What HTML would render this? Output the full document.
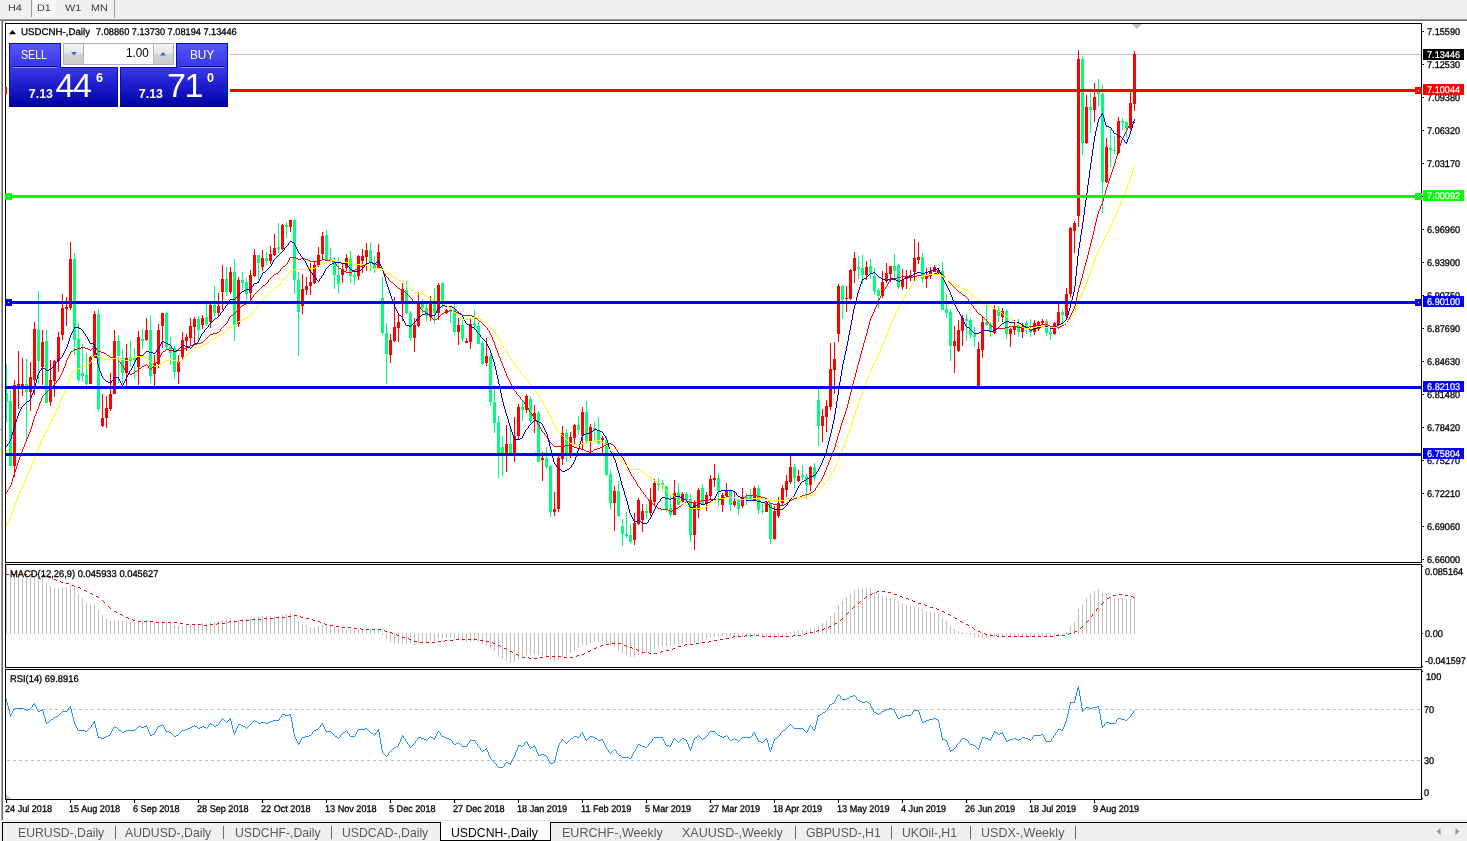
<!DOCTYPE html>
<html><head><meta charset="utf-8"><title>USDCNH-,Daily</title>
<style>
html,body{margin:0;padding:0;background:#fff;}
body{width:1467px;height:841px;overflow:hidden;position:relative;font-family:"Liberation Sans",sans-serif;font-size:9px;color:#000;}
.a{position:absolute;white-space:nowrap;line-height:1;}
.t{position:absolute;white-space:nowrap;line-height:11px;height:11px;font-size:10px;text-rendering:geometricPrecision;transform:translate(0,1px) scale(0.915,0.975);transform-origin:0 0;-webkit-text-stroke:0.3px currentColor;}
.ax{left:1426.5px;}
.tb{position:absolute;white-space:nowrap;font-size:10px;color:#3c3c3c;line-height:12px;top:2px;text-rendering:geometricPrecision;transform:translate(0,1.4px) scale(1.08,0.96);transform-origin:0 0;}
.tab{position:absolute;white-space:nowrap;font-size:13px;color:#5a5a5a;line-height:15px;top:825px;transform:scaleX(0.94);transform-origin:0 0;}
.lbl{position:absolute;left:1423px;width:41px;height:11px;color:#fff;font-size:10px;line-height:11px;}
.lbl span{position:absolute;left:3.5px;top:0px;text-rendering:geometricPrecision;-webkit-text-stroke:0.25px currentColor;transform:translate(0,1px) scale(0.915,0.975);transform-origin:0 0;white-space:nowrap;}
svg{position:absolute;left:0;top:0;}
</style></head><body>

<div class="a" style="left:0;top:0;width:1467px;height:19px;background:#f0f0f0"></div>
<div class="a" style="left:0;top:19px;width:1467px;height:1px;background:#a0a0a0"></div>
<div class="a" style="left:0px;top:20px;width:1467px;height:1px;background:#696969"></div>
<div class="a" style="left:0;top:21px;width:1px;height:801px;background:#ffffff"></div>
<div class="a" style="left:0;top:429px;width:1px;height:1px;background:#a0a0a0"></div>
<div class="a" style="left:1px;top:19px;width:1px;height:802px;background:#a0a0a0"></div>
<div class="a" style="left:2px;top:20px;width:1px;height:801px;background:#696969"></div>
<div class="a" style="left:31px;top:0;width:1px;height:17px;background:#a0a0a0"></div>
<div class="a" style="left:33px;top:0;width:23px;height:17px;background:repeating-conic-gradient(#ffffff 0% 25%,#f0f0f0 0% 50%) 0 0/2px 2px"></div>
<div class="a" style="left:114px;top:0;width:1px;height:18px;background:#a0a0a0"></div>
<div class="tb" style="left:8px">H4</div>
<div class="tb" style="left:37px">D1</div>
<div class="tb" style="left:64.5px">W1</div>
<div class="tb" style="left:91px">MN</div>
<div class="a" style="left:0;top:820px;width:1467px;height:1px;background:#e8e8e8"></div>
<div class="a" style="left:0;top:821px;width:1467px;height:1px;background:#ffffff"></div>
<div class="a" style="left:0;top:822px;width:1467px;height:19px;background:#f0f0f0"></div>
<div class="a" style="left:2px;top:822px;width:1465px;height:1px;background:#000"></div>
<div class="a" style="left:2px;top:822px;width:1px;height:19px;background:#000"></div>
<div class="a" style="left:440px;top:822px;width:111px;height:19px;background:#fff;border:1px solid #000;border-top:none;box-sizing:border-box"></div>
<div class="tab" style="left:18px">EURUSD-,Daily</div>
<div class="tab" style="left:125px">AUDUSD-,Daily</div>
<div class="tab" style="left:235px">USDCHF-,Daily</div>
<div class="tab" style="left:342px">USDCAD-,Daily</div>
<div class="tab" style="left:451px;color:#000">USDCNH-,Daily</div>
<div class="tab" style="left:562px;transform:scaleX(0.965)">EURCHF-,Weekly</div>
<div class="tab" style="left:682px;transform:scaleX(0.965)">XAUUSD-,Weekly</div>
<div class="tab" style="left:806px">GBPUSD-,H1</div>
<div class="tab" style="left:902px">UKOil-,H1</div>
<div class="tab" style="left:981px;transform:scaleX(0.965)">USDX-,Weekly</div>
<div class="a" style="left:115px;top:826px;width:1px;height:13px;background:#6a6a6a"></div>
<div class="a" style="left:223px;top:826px;width:1px;height:13px;background:#6a6a6a"></div>
<div class="a" style="left:331px;top:826px;width:1px;height:13px;background:#6a6a6a"></div>
<div class="a" style="left:795px;top:826px;width:1px;height:13px;background:#6a6a6a"></div>
<div class="a" style="left:891px;top:826px;width:1px;height:13px;background:#6a6a6a"></div>
<div class="a" style="left:970px;top:826px;width:1px;height:13px;background:#6a6a6a"></div>
<div class="a" style="left:1075px;top:826px;width:1px;height:13px;background:#6a6a6a"></div>
<svg width="1467" height="841" viewBox="0 0 1467 841" shape-rendering="crispEdges">
<rect x="6" y="54" width="1415" height="1" fill="#c0c0c0"/>
<g stroke="#c0c0c0" stroke-width="1" stroke-dasharray="3,3"><line x1="7" y1="709.5" x2="1421" y2="709.5"/><line x1="7" y1="760.5" x2="1421" y2="760.5"/></g>
<g><rect x="6" y="566" width="1" height="68" fill="#c0c0c0"/><rect x="10" y="571" width="1" height="63" fill="#c0c0c0"/><rect x="14" y="571" width="1" height="63" fill="#c0c0c0"/><rect x="18" y="572" width="1" height="62" fill="#c0c0c0"/><rect x="22" y="573" width="1" height="61" fill="#c0c0c0"/><rect x="26" y="575" width="1" height="59" fill="#c0c0c0"/><rect x="30" y="577" width="1" height="57" fill="#c0c0c0"/><rect x="34" y="576" width="1" height="58" fill="#c0c0c0"/><rect x="38" y="577" width="1" height="57" fill="#c0c0c0"/><rect x="42" y="578" width="1" height="56" fill="#c0c0c0"/><rect x="46" y="583" width="1" height="51" fill="#c0c0c0"/><rect x="50" y="586" width="1" height="48" fill="#c0c0c0"/><rect x="54" y="588" width="1" height="46" fill="#c0c0c0"/><rect x="58" y="588" width="1" height="46" fill="#c0c0c0"/><rect x="62" y="587" width="1" height="47" fill="#c0c0c0"/><rect x="66" y="587" width="1" height="47" fill="#c0c0c0"/><rect x="70" y="585" width="1" height="49" fill="#c0c0c0"/><rect x="74" y="588" width="1" height="46" fill="#c0c0c0"/><rect x="78" y="594" width="1" height="40" fill="#c0c0c0"/><rect x="82" y="598" width="1" height="36" fill="#c0c0c0"/><rect x="86" y="603" width="1" height="31" fill="#c0c0c0"/><rect x="90" y="605" width="1" height="29" fill="#c0c0c0"/><rect x="94" y="605" width="1" height="29" fill="#c0c0c0"/><rect x="98" y="610" width="1" height="24" fill="#c0c0c0"/><rect x="102" y="615" width="1" height="19" fill="#c0c0c0"/><rect x="106" y="619" width="1" height="15" fill="#c0c0c0"/><rect x="110" y="621" width="1" height="13" fill="#c0c0c0"/><rect x="114" y="620" width="1" height="14" fill="#c0c0c0"/><rect x="118" y="620" width="1" height="14" fill="#c0c0c0"/><rect x="122" y="621" width="1" height="13" fill="#c0c0c0"/><rect x="126" y="621" width="1" height="13" fill="#c0c0c0"/><rect x="130" y="622" width="1" height="12" fill="#c0c0c0"/><rect x="134" y="622" width="1" height="12" fill="#c0c0c0"/><rect x="138" y="621" width="1" height="13" fill="#c0c0c0"/><rect x="142" y="621" width="1" height="13" fill="#c0c0c0"/><rect x="146" y="620" width="1" height="14" fill="#c0c0c0"/><rect x="150" y="622" width="1" height="12" fill="#c0c0c0"/><rect x="154" y="623" width="1" height="11" fill="#c0c0c0"/><rect x="158" y="622" width="1" height="12" fill="#c0c0c0"/><rect x="162" y="621" width="1" height="13" fill="#c0c0c0"/><rect x="166" y="622" width="1" height="12" fill="#c0c0c0"/><rect x="170" y="623" width="1" height="11" fill="#c0c0c0"/><rect x="174" y="625" width="1" height="9" fill="#c0c0c0"/><rect x="178" y="626" width="1" height="8" fill="#c0c0c0"/><rect x="182" y="626" width="1" height="8" fill="#c0c0c0"/><rect x="186" y="626" width="1" height="8" fill="#c0c0c0"/><rect x="190" y="625" width="1" height="9" fill="#c0c0c0"/><rect x="194" y="624" width="1" height="10" fill="#c0c0c0"/><rect x="198" y="624" width="1" height="10" fill="#c0c0c0"/><rect x="202" y="623" width="1" height="11" fill="#c0c0c0"/><rect x="206" y="623" width="1" height="11" fill="#c0c0c0"/><rect x="210" y="622" width="1" height="12" fill="#c0c0c0"/><rect x="214" y="622" width="1" height="12" fill="#c0c0c0"/><rect x="218" y="621" width="1" height="13" fill="#c0c0c0"/><rect x="222" y="620" width="1" height="14" fill="#c0c0c0"/><rect x="226" y="619" width="1" height="15" fill="#c0c0c0"/><rect x="230" y="618" width="1" height="16" fill="#c0c0c0"/><rect x="234" y="620" width="1" height="14" fill="#c0c0c0"/><rect x="238" y="619" width="1" height="15" fill="#c0c0c0"/><rect x="242" y="619" width="1" height="15" fill="#c0c0c0"/><rect x="246" y="619" width="1" height="15" fill="#c0c0c0"/><rect x="250" y="619" width="1" height="15" fill="#c0c0c0"/><rect x="254" y="617" width="1" height="17" fill="#c0c0c0"/><rect x="258" y="617" width="1" height="17" fill="#c0c0c0"/><rect x="262" y="616" width="1" height="18" fill="#c0c0c0"/><rect x="266" y="616" width="1" height="18" fill="#c0c0c0"/><rect x="270" y="616" width="1" height="18" fill="#c0c0c0"/><rect x="274" y="616" width="1" height="18" fill="#c0c0c0"/><rect x="278" y="616" width="1" height="18" fill="#c0c0c0"/><rect x="282" y="615" width="1" height="19" fill="#c0c0c0"/><rect x="286" y="614" width="1" height="20" fill="#c0c0c0"/><rect x="290" y="613" width="1" height="21" fill="#c0c0c0"/><rect x="294" y="616" width="1" height="18" fill="#c0c0c0"/><rect x="298" y="621" width="1" height="13" fill="#c0c0c0"/><rect x="302" y="624" width="1" height="10" fill="#c0c0c0"/><rect x="306" y="625" width="1" height="9" fill="#c0c0c0"/><rect x="310" y="627" width="1" height="7" fill="#c0c0c0"/><rect x="314" y="627" width="1" height="7" fill="#c0c0c0"/><rect x="318" y="626" width="1" height="8" fill="#c0c0c0"/><rect x="322" y="625" width="1" height="9" fill="#c0c0c0"/><rect x="326" y="625" width="1" height="9" fill="#c0c0c0"/><rect x="330" y="626" width="1" height="8" fill="#c0c0c0"/><rect x="334" y="627" width="1" height="7" fill="#c0c0c0"/><rect x="338" y="628" width="1" height="6" fill="#c0c0c0"/><rect x="342" y="629" width="1" height="5" fill="#c0c0c0"/><rect x="346" y="629" width="1" height="5" fill="#c0c0c0"/><rect x="350" y="630" width="1" height="4" fill="#c0c0c0"/><rect x="354" y="630" width="1" height="4" fill="#c0c0c0"/><rect x="358" y="630" width="1" height="4" fill="#c0c0c0"/><rect x="362" y="629" width="1" height="5" fill="#c0c0c0"/><rect x="366" y="629" width="1" height="5" fill="#c0c0c0"/><rect x="370" y="629" width="1" height="5" fill="#c0c0c0"/><rect x="374" y="630" width="1" height="4" fill="#c0c0c0"/><rect x="378" y="629" width="1" height="5" fill="#c0c0c0"/><rect x="382" y="633" width="1" height="2" fill="#c0c0c0"/><rect x="386" y="633" width="1" height="6" fill="#c0c0c0"/><rect x="390" y="633" width="1" height="9" fill="#c0c0c0"/><rect x="394" y="633" width="1" height="11" fill="#c0c0c0"/><rect x="398" y="633" width="1" height="11" fill="#c0c0c0"/><rect x="402" y="633" width="1" height="10" fill="#c0c0c0"/><rect x="406" y="633" width="1" height="10" fill="#c0c0c0"/><rect x="410" y="633" width="1" height="11" fill="#c0c0c0"/><rect x="414" y="633" width="1" height="12" fill="#c0c0c0"/><rect x="418" y="633" width="1" height="10" fill="#c0c0c0"/><rect x="422" y="633" width="1" height="10" fill="#c0c0c0"/><rect x="426" y="633" width="1" height="9" fill="#c0c0c0"/><rect x="430" y="633" width="1" height="8" fill="#c0c0c0"/><rect x="434" y="633" width="1" height="8" fill="#c0c0c0"/><rect x="438" y="633" width="1" height="6" fill="#c0c0c0"/><rect x="442" y="633" width="1" height="6" fill="#c0c0c0"/><rect x="446" y="633" width="1" height="5" fill="#c0c0c0"/><rect x="450" y="633" width="1" height="5" fill="#c0c0c0"/><rect x="454" y="633" width="1" height="7" fill="#c0c0c0"/><rect x="458" y="633" width="1" height="7" fill="#c0c0c0"/><rect x="462" y="633" width="1" height="8" fill="#c0c0c0"/><rect x="466" y="633" width="1" height="9" fill="#c0c0c0"/><rect x="470" y="633" width="1" height="9" fill="#c0c0c0"/><rect x="474" y="633" width="1" height="8" fill="#c0c0c0"/><rect x="478" y="633" width="1" height="9" fill="#c0c0c0"/><rect x="482" y="633" width="1" height="11" fill="#c0c0c0"/><rect x="486" y="633" width="1" height="12" fill="#c0c0c0"/><rect x="490" y="633" width="1" height="15" fill="#c0c0c0"/><rect x="494" y="633" width="1" height="18" fill="#c0c0c0"/><rect x="498" y="633" width="1" height="23" fill="#c0c0c0"/><rect x="502" y="633" width="1" height="26" fill="#c0c0c0"/><rect x="506" y="633" width="1" height="28" fill="#c0c0c0"/><rect x="510" y="633" width="1" height="30" fill="#c0c0c0"/><rect x="514" y="633" width="1" height="29" fill="#c0c0c0"/><rect x="518" y="633" width="1" height="27" fill="#c0c0c0"/><rect x="522" y="633" width="1" height="25" fill="#c0c0c0"/><rect x="526" y="633" width="1" height="23" fill="#c0c0c0"/><rect x="530" y="633" width="1" height="22" fill="#c0c0c0"/><rect x="534" y="633" width="1" height="21" fill="#c0c0c0"/><rect x="538" y="633" width="1" height="22" fill="#c0c0c0"/><rect x="542" y="633" width="1" height="23" fill="#c0c0c0"/><rect x="546" y="633" width="1" height="24" fill="#c0c0c0"/><rect x="550" y="633" width="1" height="27" fill="#c0c0c0"/><rect x="554" y="633" width="1" height="29" fill="#c0c0c0"/><rect x="558" y="633" width="1" height="27" fill="#c0c0c0"/><rect x="562" y="633" width="1" height="24" fill="#c0c0c0"/><rect x="566" y="633" width="1" height="23" fill="#c0c0c0"/><rect x="570" y="633" width="1" height="20" fill="#c0c0c0"/><rect x="574" y="633" width="1" height="17" fill="#c0c0c0"/><rect x="578" y="633" width="1" height="15" fill="#c0c0c0"/><rect x="582" y="633" width="1" height="12" fill="#c0c0c0"/><rect x="586" y="633" width="1" height="12" fill="#c0c0c0"/><rect x="590" y="633" width="1" height="10" fill="#c0c0c0"/><rect x="594" y="633" width="1" height="9" fill="#c0c0c0"/><rect x="598" y="633" width="1" height="9" fill="#c0c0c0"/><rect x="602" y="633" width="1" height="8" fill="#c0c0c0"/><rect x="606" y="633" width="1" height="10" fill="#c0c0c0"/><rect x="610" y="633" width="1" height="13" fill="#c0c0c0"/><rect x="614" y="633" width="1" height="14" fill="#c0c0c0"/><rect x="618" y="633" width="1" height="17" fill="#c0c0c0"/><rect x="622" y="633" width="1" height="20" fill="#c0c0c0"/><rect x="626" y="633" width="1" height="22" fill="#c0c0c0"/><rect x="630" y="633" width="1" height="24" fill="#c0c0c0"/><rect x="634" y="633" width="1" height="24" fill="#c0c0c0"/><rect x="638" y="633" width="1" height="22" fill="#c0c0c0"/><rect x="642" y="633" width="1" height="21" fill="#c0c0c0"/><rect x="646" y="633" width="1" height="20" fill="#c0c0c0"/><rect x="650" y="633" width="1" height="19" fill="#c0c0c0"/><rect x="654" y="633" width="1" height="16" fill="#c0c0c0"/><rect x="658" y="633" width="1" height="14" fill="#c0c0c0"/><rect x="662" y="633" width="1" height="13" fill="#c0c0c0"/><rect x="666" y="633" width="1" height="13" fill="#c0c0c0"/><rect x="670" y="633" width="1" height="13" fill="#c0c0c0"/><rect x="674" y="633" width="1" height="11" fill="#c0c0c0"/><rect x="678" y="633" width="1" height="11" fill="#c0c0c0"/><rect x="682" y="633" width="1" height="10" fill="#c0c0c0"/><rect x="686" y="633" width="1" height="9" fill="#c0c0c0"/><rect x="690" y="633" width="1" height="11" fill="#c0c0c0"/><rect x="694" y="633" width="1" height="10" fill="#c0c0c0"/><rect x="698" y="633" width="1" height="8" fill="#c0c0c0"/><rect x="702" y="633" width="1" height="8" fill="#c0c0c0"/><rect x="706" y="633" width="1" height="7" fill="#c0c0c0"/><rect x="710" y="633" width="1" height="5" fill="#c0c0c0"/><rect x="714" y="633" width="1" height="4" fill="#c0c0c0"/><rect x="718" y="633" width="1" height="3" fill="#c0c0c0"/><rect x="722" y="633" width="1" height="3" fill="#c0c0c0"/><rect x="726" y="633" width="1" height="3" fill="#c0c0c0"/><rect x="730" y="633" width="1" height="3" fill="#c0c0c0"/><rect x="734" y="633" width="1" height="3" fill="#c0c0c0"/><rect x="738" y="633" width="1" height="4" fill="#c0c0c0"/><rect x="742" y="633" width="1" height="4" fill="#c0c0c0"/><rect x="746" y="633" width="1" height="4" fill="#c0c0c0"/><rect x="750" y="633" width="1" height="4" fill="#c0c0c0"/><rect x="754" y="633" width="1" height="3" fill="#c0c0c0"/><rect x="758" y="633" width="1" height="3" fill="#c0c0c0"/><rect x="762" y="633" width="1" height="4" fill="#c0c0c0"/><rect x="766" y="633" width="1" height="4" fill="#c0c0c0"/><rect x="770" y="633" width="1" height="6" fill="#c0c0c0"/><rect x="774" y="633" width="1" height="6" fill="#c0c0c0"/><rect x="778" y="633" width="1" height="5" fill="#c0c0c0"/><rect x="782" y="633" width="1" height="4" fill="#c0c0c0"/><rect x="786" y="633" width="1" height="2" fill="#c0c0c0"/><rect x="790" y="632" width="1" height="2" fill="#c0c0c0"/><rect x="794" y="631" width="1" height="3" fill="#c0c0c0"/><rect x="798" y="630" width="1" height="4" fill="#c0c0c0"/><rect x="802" y="630" width="1" height="4" fill="#c0c0c0"/><rect x="806" y="630" width="1" height="4" fill="#c0c0c0"/><rect x="810" y="629" width="1" height="5" fill="#c0c0c0"/><rect x="814" y="629" width="1" height="5" fill="#c0c0c0"/><rect x="818" y="626" width="1" height="8" fill="#c0c0c0"/><rect x="822" y="623" width="1" height="11" fill="#c0c0c0"/><rect x="826" y="620" width="1" height="14" fill="#c0c0c0"/><rect x="830" y="616" width="1" height="18" fill="#c0c0c0"/><rect x="834" y="612" width="1" height="22" fill="#c0c0c0"/><rect x="838" y="605" width="1" height="29" fill="#c0c0c0"/><rect x="842" y="601" width="1" height="33" fill="#c0c0c0"/><rect x="846" y="597" width="1" height="37" fill="#c0c0c0"/><rect x="850" y="594" width="1" height="40" fill="#c0c0c0"/><rect x="854" y="590" width="1" height="44" fill="#c0c0c0"/><rect x="858" y="589" width="1" height="45" fill="#c0c0c0"/><rect x="862" y="589" width="1" height="45" fill="#c0c0c0"/><rect x="866" y="589" width="1" height="45" fill="#c0c0c0"/><rect x="870" y="589" width="1" height="45" fill="#c0c0c0"/><rect x="874" y="592" width="1" height="42" fill="#c0c0c0"/><rect x="878" y="594" width="1" height="40" fill="#c0c0c0"/><rect x="882" y="596" width="1" height="38" fill="#c0c0c0"/><rect x="886" y="597" width="1" height="37" fill="#c0c0c0"/><rect x="890" y="598" width="1" height="36" fill="#c0c0c0"/><rect x="894" y="599" width="1" height="35" fill="#c0c0c0"/><rect x="898" y="601" width="1" height="33" fill="#c0c0c0"/><rect x="902" y="603" width="1" height="31" fill="#c0c0c0"/><rect x="906" y="605" width="1" height="29" fill="#c0c0c0"/><rect x="910" y="606" width="1" height="28" fill="#c0c0c0"/><rect x="914" y="607" width="1" height="27" fill="#c0c0c0"/><rect x="918" y="607" width="1" height="27" fill="#c0c0c0"/><rect x="922" y="609" width="1" height="25" fill="#c0c0c0"/><rect x="926" y="611" width="1" height="23" fill="#c0c0c0"/><rect x="930" y="612" width="1" height="22" fill="#c0c0c0"/><rect x="934" y="613" width="1" height="21" fill="#c0c0c0"/><rect x="938" y="614" width="1" height="20" fill="#c0c0c0"/><rect x="942" y="618" width="1" height="16" fill="#c0c0c0"/><rect x="946" y="621" width="1" height="13" fill="#c0c0c0"/><rect x="950" y="626" width="1" height="8" fill="#c0c0c0"/><rect x="954" y="629" width="1" height="5" fill="#c0c0c0"/><rect x="958" y="631" width="1" height="3" fill="#c0c0c0"/><rect x="962" y="632" width="1" height="2" fill="#c0c0c0"/><rect x="966" y="633" width="1" height="1" fill="#c0c0c0"/><rect x="970" y="633" width="1" height="2" fill="#c0c0c0"/><rect x="974" y="633" width="1" height="4" fill="#c0c0c0"/><rect x="978" y="633" width="1" height="5" fill="#c0c0c0"/><rect x="982" y="633" width="1" height="5" fill="#c0c0c0"/><rect x="986" y="633" width="1" height="5" fill="#c0c0c0"/><rect x="990" y="633" width="1" height="5" fill="#c0c0c0"/><rect x="994" y="633" width="1" height="4" fill="#c0c0c0"/><rect x="998" y="633" width="1" height="3" fill="#c0c0c0"/><rect x="1002" y="633" width="1" height="3" fill="#c0c0c0"/><rect x="1006" y="633" width="1" height="3" fill="#c0c0c0"/><rect x="1010" y="633" width="1" height="4" fill="#c0c0c0"/><rect x="1014" y="633" width="1" height="4" fill="#c0c0c0"/><rect x="1018" y="633" width="1" height="4" fill="#c0c0c0"/><rect x="1022" y="633" width="1" height="4" fill="#c0c0c0"/><rect x="1026" y="633" width="1" height="4" fill="#c0c0c0"/><rect x="1030" y="633" width="1" height="4" fill="#c0c0c0"/><rect x="1034" y="633" width="1" height="4" fill="#c0c0c0"/><rect x="1038" y="633" width="1" height="3" fill="#c0c0c0"/><rect x="1042" y="633" width="1" height="3" fill="#c0c0c0"/><rect x="1046" y="633" width="1" height="3" fill="#c0c0c0"/><rect x="1050" y="633" width="1" height="3" fill="#c0c0c0"/><rect x="1054" y="633" width="1" height="3" fill="#c0c0c0"/><rect x="1058" y="633" width="1" height="2" fill="#c0c0c0"/><rect x="1062" y="633" width="1" height="1" fill="#c0c0c0"/><rect x="1066" y="632" width="1" height="2" fill="#c0c0c0"/><rect x="1070" y="626" width="1" height="8" fill="#c0c0c0"/><rect x="1074" y="622" width="1" height="12" fill="#c0c0c0"/><rect x="1078" y="609" width="1" height="25" fill="#c0c0c0"/><rect x="1082" y="604" width="1" height="30" fill="#c0c0c0"/><rect x="1086" y="598" width="1" height="36" fill="#c0c0c0"/><rect x="1090" y="594" width="1" height="40" fill="#c0c0c0"/><rect x="1094" y="591" width="1" height="43" fill="#c0c0c0"/><rect x="1098" y="589" width="1" height="45" fill="#c0c0c0"/><rect x="1102" y="593" width="1" height="41" fill="#c0c0c0"/><rect x="1106" y="594" width="1" height="40" fill="#c0c0c0"/><rect x="1110" y="596" width="1" height="38" fill="#c0c0c0"/><rect x="1114" y="598" width="1" height="36" fill="#c0c0c0"/><rect x="1118" y="598" width="1" height="36" fill="#c0c0c0"/><rect x="1122" y="598" width="1" height="36" fill="#c0c0c0"/><rect x="1126" y="599" width="1" height="35" fill="#c0c0c0"/><rect x="1130" y="599" width="1" height="35" fill="#c0c0c0"/><rect x="1134" y="596" width="1" height="38" fill="#c0c0c0"/></g>
<rect x="7" y="565" width="153" height="12" fill="#fff"/>
<g><rect x="6" y="364" width="1" height="58" fill="#00ff7f"/><rect x="5" y="393" width="3" height="9" fill="#00ff7f"/><rect x="10" y="390" width="1" height="76" fill="#00ff7f"/><rect x="9" y="401" width="3" height="65" fill="#00ff7f"/><rect x="14" y="380" width="1" height="97" fill="#ff0000"/><rect x="13" y="385" width="3" height="81" fill="#ff0000"/><rect x="18" y="351" width="1" height="58" fill="#ff0000"/><rect x="17" y="384" width="3" height="2" fill="#ff0000"/><rect x="22" y="358" width="1" height="38" fill="#ff0000"/><rect x="21" y="384" width="3" height="2" fill="#ff0000"/><rect x="26" y="359" width="1" height="80" fill="#00ff7f"/><rect x="25" y="384" width="3" height="8" fill="#00ff7f"/><rect x="30" y="362" width="1" height="49" fill="#ff0000"/><rect x="29" y="377" width="3" height="15" fill="#ff0000"/><rect x="34" y="322" width="1" height="73" fill="#ff0000"/><rect x="33" y="329" width="3" height="51" fill="#ff0000"/><rect x="38" y="291" width="1" height="93" fill="#00ff7f"/><rect x="37" y="330" width="3" height="31" fill="#00ff7f"/><rect x="42" y="330" width="1" height="55" fill="#ff0000"/><rect x="41" y="342" width="3" height="25" fill="#ff0000"/><rect x="46" y="330" width="1" height="73" fill="#00ff7f"/><rect x="45" y="341" width="3" height="62" fill="#00ff7f"/><rect x="50" y="360" width="1" height="46" fill="#ff0000"/><rect x="49" y="380" width="3" height="22" fill="#ff0000"/><rect x="54" y="360" width="1" height="37" fill="#ff0000"/><rect x="53" y="361" width="3" height="20" fill="#ff0000"/><rect x="58" y="332" width="1" height="40" fill="#ff0000"/><rect x="57" y="337" width="3" height="24" fill="#ff0000"/><rect x="62" y="294" width="1" height="46" fill="#ff0000"/><rect x="61" y="308" width="3" height="27" fill="#ff0000"/><rect x="66" y="297" width="1" height="29" fill="#ff0000"/><rect x="65" y="307" width="3" height="2" fill="#ff0000"/><rect x="70" y="242" width="1" height="68" fill="#ff0000"/><rect x="69" y="259" width="3" height="49" fill="#ff0000"/><rect x="74" y="253" width="1" height="102" fill="#00ff7f"/><rect x="73" y="259" width="3" height="81" fill="#00ff7f"/><rect x="78" y="323" width="1" height="59" fill="#00ff7f"/><rect x="77" y="339" width="3" height="41" fill="#00ff7f"/><rect x="82" y="344" width="1" height="38" fill="#00ff7f"/><rect x="81" y="373" width="3" height="3" fill="#00ff7f"/><rect x="86" y="353" width="1" height="37" fill="#00ff7f"/><rect x="85" y="375" width="3" height="9" fill="#00ff7f"/><rect x="90" y="356" width="1" height="28" fill="#ff0000"/><rect x="89" y="357" width="3" height="27" fill="#ff0000"/><rect x="94" y="311" width="1" height="47" fill="#ff0000"/><rect x="93" y="314" width="3" height="44" fill="#ff0000"/><rect x="98" y="309" width="1" height="103" fill="#00ff7f"/><rect x="97" y="314" width="3" height="95" fill="#00ff7f"/><rect x="102" y="394" width="1" height="33" fill="#ff0000"/><rect x="101" y="418" width="3" height="8" fill="#ff0000"/><rect x="106" y="396" width="1" height="32" fill="#ff0000"/><rect x="105" y="408" width="3" height="10" fill="#ff0000"/><rect x="110" y="373" width="1" height="38" fill="#ff0000"/><rect x="109" y="394" width="3" height="15" fill="#ff0000"/><rect x="114" y="330" width="1" height="64" fill="#ff0000"/><rect x="113" y="341" width="3" height="53" fill="#ff0000"/><rect x="118" y="335" width="1" height="48" fill="#00ff7f"/><rect x="117" y="341" width="3" height="15" fill="#00ff7f"/><rect x="122" y="349" width="1" height="34" fill="#00ff7f"/><rect x="121" y="358" width="3" height="15" fill="#00ff7f"/><rect x="126" y="344" width="1" height="42" fill="#ff0000"/><rect x="125" y="358" width="3" height="15" fill="#ff0000"/><rect x="130" y="341" width="1" height="26" fill="#00ff7f"/><rect x="129" y="357" width="3" height="4" fill="#00ff7f"/><rect x="134" y="348" width="1" height="31" fill="#00ff7f"/><rect x="133" y="358" width="3" height="2" fill="#00ff7f"/><rect x="138" y="331" width="1" height="54" fill="#ff0000"/><rect x="137" y="337" width="3" height="30" fill="#ff0000"/><rect x="142" y="329" width="1" height="20" fill="#00ff7f"/><rect x="141" y="339" width="3" height="2" fill="#00ff7f"/><rect x="146" y="318" width="1" height="23" fill="#ff0000"/><rect x="145" y="330" width="3" height="10" fill="#ff0000"/><rect x="150" y="316" width="1" height="67" fill="#00ff7f"/><rect x="149" y="330" width="3" height="46" fill="#00ff7f"/><rect x="154" y="355" width="1" height="31" fill="#ff0000"/><rect x="153" y="363" width="3" height="11" fill="#ff0000"/><rect x="158" y="324" width="1" height="44" fill="#ff0000"/><rect x="157" y="330" width="3" height="34" fill="#ff0000"/><rect x="162" y="313" width="1" height="35" fill="#ff0000"/><rect x="161" y="313" width="3" height="13" fill="#ff0000"/><rect x="166" y="312" width="1" height="37" fill="#00ff7f"/><rect x="165" y="313" width="3" height="34" fill="#00ff7f"/><rect x="170" y="337" width="1" height="28" fill="#00ff7f"/><rect x="169" y="347" width="3" height="6" fill="#00ff7f"/><rect x="174" y="346" width="1" height="33" fill="#00ff7f"/><rect x="173" y="348" width="3" height="24" fill="#00ff7f"/><rect x="178" y="355" width="1" height="29" fill="#ff0000"/><rect x="177" y="362" width="3" height="10" fill="#ff0000"/><rect x="182" y="332" width="1" height="27" fill="#ff0000"/><rect x="181" y="340" width="3" height="17" fill="#ff0000"/><rect x="186" y="334" width="1" height="17" fill="#ff0000"/><rect x="185" y="337" width="3" height="4" fill="#ff0000"/><rect x="190" y="318" width="1" height="27" fill="#ff0000"/><rect x="189" y="326" width="3" height="12" fill="#ff0000"/><rect x="194" y="317" width="1" height="27" fill="#ff0000"/><rect x="193" y="319" width="3" height="8" fill="#ff0000"/><rect x="198" y="316" width="1" height="24" fill="#00ff7f"/><rect x="197" y="319" width="3" height="11" fill="#00ff7f"/><rect x="202" y="315" width="1" height="14" fill="#ff0000"/><rect x="201" y="318" width="3" height="7" fill="#ff0000"/><rect x="206" y="300" width="1" height="26" fill="#00ff7f"/><rect x="205" y="317" width="3" height="7" fill="#00ff7f"/><rect x="210" y="304" width="1" height="24" fill="#ff0000"/><rect x="209" y="305" width="3" height="17" fill="#ff0000"/><rect x="214" y="286" width="1" height="30" fill="#00ff7f"/><rect x="213" y="305" width="3" height="8" fill="#00ff7f"/><rect x="218" y="293" width="1" height="23" fill="#ff0000"/><rect x="217" y="306" width="3" height="7" fill="#ff0000"/><rect x="222" y="265" width="1" height="45" fill="#ff0000"/><rect x="221" y="279" width="3" height="13" fill="#ff0000"/><rect x="226" y="267" width="1" height="29" fill="#00ff7f"/><rect x="225" y="279" width="3" height="13" fill="#00ff7f"/><rect x="230" y="267" width="1" height="27" fill="#ff0000"/><rect x="229" y="272" width="3" height="20" fill="#ff0000"/><rect x="234" y="259" width="1" height="82" fill="#00ff7f"/><rect x="233" y="272" width="3" height="53" fill="#00ff7f"/><rect x="238" y="277" width="1" height="50" fill="#ff0000"/><rect x="237" y="280" width="3" height="44" fill="#ff0000"/><rect x="242" y="272" width="1" height="18" fill="#00ff7f"/><rect x="241" y="280" width="3" height="3" fill="#00ff7f"/><rect x="246" y="278" width="1" height="22" fill="#00ff7f"/><rect x="245" y="282" width="3" height="12" fill="#00ff7f"/><rect x="250" y="270" width="1" height="30" fill="#ff0000"/><rect x="249" y="275" width="3" height="18" fill="#ff0000"/><rect x="254" y="249" width="1" height="28" fill="#ff0000"/><rect x="253" y="255" width="3" height="21" fill="#ff0000"/><rect x="258" y="255" width="1" height="25" fill="#00ff7f"/><rect x="257" y="255" width="3" height="8" fill="#00ff7f"/><rect x="262" y="250" width="1" height="21" fill="#ff0000"/><rect x="261" y="258" width="3" height="9" fill="#ff0000"/><rect x="266" y="252" width="1" height="13" fill="#00ff7f"/><rect x="265" y="258" width="3" height="3" fill="#00ff7f"/><rect x="270" y="246" width="1" height="18" fill="#ff0000"/><rect x="269" y="254" width="3" height="7" fill="#ff0000"/><rect x="274" y="234" width="1" height="22" fill="#ff0000"/><rect x="273" y="248" width="3" height="7" fill="#ff0000"/><rect x="278" y="223" width="1" height="30" fill="#00ff7f"/><rect x="277" y="247" width="3" height="2" fill="#00ff7f"/><rect x="282" y="224" width="1" height="26" fill="#ff0000"/><rect x="281" y="225" width="3" height="24" fill="#ff0000"/><rect x="286" y="222" width="1" height="16" fill="#00ff7f"/><rect x="285" y="225" width="3" height="2" fill="#00ff7f"/><rect x="290" y="220" width="1" height="12" fill="#ff0000"/><rect x="289" y="220" width="3" height="7" fill="#ff0000"/><rect x="294" y="219" width="1" height="75" fill="#00ff7f"/><rect x="293" y="220" width="3" height="60" fill="#00ff7f"/><rect x="298" y="272" width="1" height="84" fill="#00ff7f"/><rect x="297" y="280" width="3" height="32" fill="#00ff7f"/><rect x="302" y="274" width="1" height="40" fill="#ff0000"/><rect x="301" y="289" width="3" height="17" fill="#ff0000"/><rect x="306" y="277" width="1" height="18" fill="#ff0000"/><rect x="305" y="286" width="3" height="4" fill="#ff0000"/><rect x="310" y="263" width="1" height="32" fill="#ff0000"/><rect x="309" y="282" width="3" height="4" fill="#ff0000"/><rect x="314" y="262" width="1" height="22" fill="#ff0000"/><rect x="313" y="265" width="3" height="18" fill="#ff0000"/><rect x="318" y="247" width="1" height="20" fill="#ff0000"/><rect x="317" y="255" width="3" height="11" fill="#ff0000"/><rect x="322" y="232" width="1" height="27" fill="#ff0000"/><rect x="321" y="236" width="3" height="18" fill="#ff0000"/><rect x="326" y="230" width="1" height="31" fill="#00ff7f"/><rect x="325" y="235" width="3" height="25" fill="#00ff7f"/><rect x="330" y="248" width="1" height="14" fill="#00ff7f"/><rect x="329" y="259" width="3" height="2" fill="#00ff7f"/><rect x="334" y="257" width="1" height="32" fill="#00ff7f"/><rect x="333" y="262" width="3" height="13" fill="#00ff7f"/><rect x="338" y="257" width="1" height="37" fill="#00ff7f"/><rect x="337" y="275" width="3" height="9" fill="#00ff7f"/><rect x="342" y="263" width="1" height="20" fill="#ff0000"/><rect x="341" y="269" width="3" height="6" fill="#ff0000"/><rect x="346" y="254" width="1" height="17" fill="#ff0000"/><rect x="345" y="258" width="3" height="10" fill="#ff0000"/><rect x="350" y="251" width="1" height="32" fill="#00ff7f"/><rect x="349" y="259" width="3" height="17" fill="#00ff7f"/><rect x="354" y="270" width="1" height="15" fill="#00ff7f"/><rect x="353" y="275" width="3" height="2" fill="#00ff7f"/><rect x="358" y="255" width="1" height="25" fill="#ff0000"/><rect x="357" y="256" width="3" height="20" fill="#ff0000"/><rect x="362" y="249" width="1" height="24" fill="#ff0000"/><rect x="361" y="256" width="3" height="5" fill="#ff0000"/><rect x="366" y="243" width="1" height="28" fill="#ff0000"/><rect x="365" y="250" width="3" height="7" fill="#ff0000"/><rect x="370" y="242" width="1" height="29" fill="#00ff7f"/><rect x="369" y="250" width="3" height="12" fill="#00ff7f"/><rect x="374" y="256" width="1" height="17" fill="#00ff7f"/><rect x="373" y="263" width="3" height="5" fill="#00ff7f"/><rect x="378" y="244" width="1" height="24" fill="#ff0000"/><rect x="377" y="252" width="3" height="16" fill="#ff0000"/><rect x="382" y="277" width="1" height="58" fill="#00ff7f"/><rect x="381" y="298" width="3" height="35" fill="#00ff7f"/><rect x="386" y="323" width="1" height="61" fill="#00ff7f"/><rect x="385" y="333" width="3" height="21" fill="#00ff7f"/><rect x="390" y="334" width="1" height="29" fill="#ff0000"/><rect x="389" y="340" width="3" height="15" fill="#ff0000"/><rect x="394" y="297" width="1" height="45" fill="#ff0000"/><rect x="393" y="327" width="3" height="14" fill="#ff0000"/><rect x="398" y="314" width="1" height="28" fill="#ff0000"/><rect x="397" y="322" width="3" height="6" fill="#ff0000"/><rect x="402" y="283" width="1" height="38" fill="#ff0000"/><rect x="401" y="289" width="3" height="13" fill="#ff0000"/><rect x="406" y="281" width="1" height="33" fill="#00ff7f"/><rect x="405" y="290" width="3" height="23" fill="#00ff7f"/><rect x="410" y="311" width="1" height="30" fill="#00ff7f"/><rect x="409" y="313" width="3" height="25" fill="#00ff7f"/><rect x="414" y="318" width="1" height="34" fill="#ff0000"/><rect x="413" y="325" width="3" height="13" fill="#ff0000"/><rect x="418" y="292" width="1" height="35" fill="#ff0000"/><rect x="417" y="303" width="3" height="23" fill="#ff0000"/><rect x="422" y="299" width="1" height="14" fill="#00ff7f"/><rect x="421" y="304" width="3" height="4" fill="#00ff7f"/><rect x="426" y="304" width="1" height="17" fill="#00ff7f"/><rect x="425" y="308" width="3" height="8" fill="#00ff7f"/><rect x="430" y="296" width="1" height="25" fill="#ff0000"/><rect x="429" y="303" width="3" height="14" fill="#ff0000"/><rect x="434" y="288" width="1" height="36" fill="#00ff7f"/><rect x="433" y="300" width="3" height="13" fill="#00ff7f"/><rect x="438" y="283" width="1" height="37" fill="#ff0000"/><rect x="437" y="285" width="3" height="28" fill="#ff0000"/><rect x="442" y="282" width="1" height="26" fill="#00ff7f"/><rect x="441" y="283" width="3" height="21" fill="#00ff7f"/><rect x="446" y="309" width="1" height="5" fill="#ff0000"/><rect x="445" y="310" width="3" height="3" fill="#ff0000"/><rect x="450" y="306" width="1" height="17" fill="#00ff7f"/><rect x="449" y="310" width="3" height="2" fill="#00ff7f"/><rect x="454" y="304" width="1" height="31" fill="#00ff7f"/><rect x="453" y="309" width="3" height="23" fill="#00ff7f"/><rect x="458" y="318" width="1" height="27" fill="#ff0000"/><rect x="457" y="325" width="3" height="7" fill="#ff0000"/><rect x="462" y="319" width="1" height="23" fill="#00ff7f"/><rect x="461" y="325" width="3" height="14" fill="#00ff7f"/><rect x="466" y="338" width="1" height="5" fill="#ff0000"/><rect x="465" y="341" width="3" height="2" fill="#ff0000"/><rect x="470" y="318" width="1" height="31" fill="#ff0000"/><rect x="469" y="324" width="3" height="18" fill="#ff0000"/><rect x="474" y="310" width="1" height="20" fill="#00ff7f"/><rect x="473" y="323" width="3" height="3" fill="#00ff7f"/><rect x="478" y="322" width="1" height="22" fill="#00ff7f"/><rect x="477" y="326" width="3" height="18" fill="#00ff7f"/><rect x="482" y="341" width="1" height="24" fill="#00ff7f"/><rect x="481" y="343" width="3" height="21" fill="#00ff7f"/><rect x="486" y="338" width="1" height="28" fill="#ff0000"/><rect x="485" y="356" width="3" height="7" fill="#ff0000"/><rect x="490" y="354" width="1" height="52" fill="#00ff7f"/><rect x="489" y="356" width="3" height="46" fill="#00ff7f"/><rect x="494" y="385" width="1" height="48" fill="#00ff7f"/><rect x="493" y="402" width="3" height="21" fill="#00ff7f"/><rect x="498" y="416" width="1" height="62" fill="#00ff7f"/><rect x="497" y="422" width="3" height="33" fill="#00ff7f"/><rect x="502" y="436" width="1" height="40" fill="#00ff7f"/><rect x="501" y="447" width="3" height="8" fill="#00ff7f"/><rect x="506" y="425" width="1" height="47" fill="#ff0000"/><rect x="505" y="444" width="3" height="11" fill="#ff0000"/><rect x="510" y="428" width="1" height="27" fill="#00ff7f"/><rect x="509" y="444" width="3" height="11" fill="#00ff7f"/><rect x="514" y="417" width="1" height="45" fill="#ff0000"/><rect x="513" y="436" width="3" height="19" fill="#ff0000"/><rect x="518" y="404" width="1" height="35" fill="#ff0000"/><rect x="517" y="407" width="3" height="29" fill="#ff0000"/><rect x="522" y="401" width="1" height="20" fill="#00ff7f"/><rect x="521" y="407" width="3" height="3" fill="#00ff7f"/><rect x="526" y="394" width="1" height="19" fill="#ff0000"/><rect x="525" y="396" width="3" height="14" fill="#ff0000"/><rect x="530" y="396" width="1" height="27" fill="#00ff7f"/><rect x="529" y="399" width="3" height="22" fill="#00ff7f"/><rect x="534" y="405" width="1" height="28" fill="#ff0000"/><rect x="533" y="413" width="3" height="6" fill="#ff0000"/><rect x="538" y="411" width="1" height="51" fill="#00ff7f"/><rect x="537" y="413" width="3" height="49" fill="#00ff7f"/><rect x="542" y="452" width="1" height="29" fill="#ff0000"/><rect x="541" y="458" width="3" height="2" fill="#ff0000"/><rect x="546" y="447" width="1" height="22" fill="#00ff7f"/><rect x="545" y="458" width="3" height="9" fill="#00ff7f"/><rect x="550" y="465" width="1" height="52" fill="#00ff7f"/><rect x="549" y="466" width="3" height="46" fill="#00ff7f"/><rect x="554" y="492" width="1" height="24" fill="#ff0000"/><rect x="553" y="509" width="3" height="3" fill="#ff0000"/><rect x="558" y="456" width="1" height="56" fill="#ff0000"/><rect x="557" y="458" width="3" height="51" fill="#ff0000"/><rect x="562" y="426" width="1" height="39" fill="#ff0000"/><rect x="561" y="433" width="3" height="26" fill="#ff0000"/><rect x="566" y="429" width="1" height="33" fill="#00ff7f"/><rect x="565" y="433" width="3" height="20" fill="#00ff7f"/><rect x="570" y="432" width="1" height="26" fill="#ff0000"/><rect x="569" y="437" width="3" height="16" fill="#ff0000"/><rect x="574" y="424" width="1" height="20" fill="#ff0000"/><rect x="573" y="425" width="3" height="13" fill="#ff0000"/><rect x="578" y="416" width="1" height="19" fill="#00ff7f"/><rect x="577" y="425" width="3" height="5" fill="#00ff7f"/><rect x="582" y="407" width="1" height="42" fill="#ff0000"/><rect x="581" y="412" width="3" height="24" fill="#ff0000"/><rect x="586" y="401" width="1" height="43" fill="#00ff7f"/><rect x="585" y="412" width="3" height="29" fill="#00ff7f"/><rect x="590" y="424" width="1" height="29" fill="#ff0000"/><rect x="589" y="427" width="3" height="14" fill="#ff0000"/><rect x="594" y="422" width="1" height="20" fill="#00ff7f"/><rect x="593" y="428" width="3" height="2" fill="#00ff7f"/><rect x="598" y="417" width="1" height="27" fill="#00ff7f"/><rect x="597" y="431" width="3" height="12" fill="#00ff7f"/><rect x="602" y="436" width="1" height="17" fill="#ff0000"/><rect x="601" y="438" width="3" height="2" fill="#ff0000"/><rect x="606" y="436" width="1" height="40" fill="#00ff7f"/><rect x="605" y="440" width="3" height="35" fill="#00ff7f"/><rect x="610" y="470" width="1" height="40" fill="#00ff7f"/><rect x="609" y="474" width="3" height="29" fill="#00ff7f"/><rect x="614" y="486" width="1" height="45" fill="#ff0000"/><rect x="613" y="491" width="3" height="12" fill="#ff0000"/><rect x="618" y="481" width="1" height="36" fill="#00ff7f"/><rect x="617" y="491" width="3" height="25" fill="#00ff7f"/><rect x="622" y="519" width="1" height="27" fill="#00ff7f"/><rect x="621" y="526" width="3" height="8" fill="#00ff7f"/><rect x="626" y="512" width="1" height="26" fill="#00ff7f"/><rect x="625" y="534" width="3" height="2" fill="#00ff7f"/><rect x="630" y="524" width="1" height="20" fill="#00ff7f"/><rect x="629" y="535" width="3" height="7" fill="#00ff7f"/><rect x="634" y="513" width="1" height="32" fill="#ff0000"/><rect x="633" y="523" width="3" height="17" fill="#ff0000"/><rect x="638" y="498" width="1" height="27" fill="#ff0000"/><rect x="637" y="500" width="3" height="24" fill="#ff0000"/><rect x="642" y="504" width="1" height="28" fill="#ff0000"/><rect x="641" y="511" width="3" height="9" fill="#ff0000"/><rect x="646" y="504" width="1" height="15" fill="#00ff7f"/><rect x="645" y="511" width="3" height="2" fill="#00ff7f"/><rect x="650" y="488" width="1" height="28" fill="#ff0000"/><rect x="649" y="500" width="3" height="13" fill="#ff0000"/><rect x="654" y="479" width="1" height="26" fill="#ff0000"/><rect x="653" y="483" width="3" height="19" fill="#ff0000"/><rect x="658" y="478" width="1" height="13" fill="#00ff7f"/><rect x="657" y="483" width="3" height="2" fill="#00ff7f"/><rect x="662" y="480" width="1" height="9" fill="#00ff7f"/><rect x="661" y="483" width="3" height="2" fill="#00ff7f"/><rect x="666" y="486" width="1" height="26" fill="#00ff7f"/><rect x="665" y="486" width="3" height="23" fill="#00ff7f"/><rect x="670" y="495" width="1" height="23" fill="#00ff7f"/><rect x="669" y="508" width="3" height="7" fill="#00ff7f"/><rect x="674" y="480" width="1" height="35" fill="#ff0000"/><rect x="673" y="493" width="3" height="22" fill="#ff0000"/><rect x="678" y="483" width="1" height="22" fill="#00ff7f"/><rect x="677" y="493" width="3" height="12" fill="#00ff7f"/><rect x="682" y="492" width="1" height="11" fill="#ff0000"/><rect x="681" y="494" width="3" height="8" fill="#ff0000"/><rect x="686" y="492" width="1" height="9" fill="#00ff7f"/><rect x="685" y="494" width="3" height="6" fill="#00ff7f"/><rect x="690" y="494" width="1" height="48" fill="#00ff7f"/><rect x="689" y="499" width="3" height="36" fill="#00ff7f"/><rect x="694" y="500" width="1" height="50" fill="#ff0000"/><rect x="693" y="502" width="3" height="33" fill="#ff0000"/><rect x="698" y="488" width="1" height="30" fill="#ff0000"/><rect x="697" y="490" width="3" height="20" fill="#ff0000"/><rect x="702" y="484" width="1" height="21" fill="#00ff7f"/><rect x="701" y="488" width="3" height="16" fill="#00ff7f"/><rect x="706" y="492" width="1" height="19" fill="#ff0000"/><rect x="705" y="495" width="3" height="8" fill="#ff0000"/><rect x="710" y="475" width="1" height="25" fill="#ff0000"/><rect x="709" y="479" width="3" height="17" fill="#ff0000"/><rect x="714" y="464" width="1" height="23" fill="#ff0000"/><rect x="713" y="478" width="3" height="2" fill="#ff0000"/><rect x="718" y="473" width="1" height="33" fill="#00ff7f"/><rect x="717" y="478" width="3" height="13" fill="#00ff7f"/><rect x="722" y="493" width="1" height="19" fill="#ff0000"/><rect x="721" y="495" width="3" height="10" fill="#ff0000"/><rect x="726" y="483" width="1" height="13" fill="#ff0000"/><rect x="725" y="490" width="3" height="6" fill="#ff0000"/><rect x="730" y="489" width="1" height="22" fill="#00ff7f"/><rect x="729" y="491" width="3" height="14" fill="#00ff7f"/><rect x="734" y="492" width="1" height="15" fill="#ff0000"/><rect x="733" y="501" width="3" height="4" fill="#ff0000"/><rect x="738" y="499" width="1" height="16" fill="#00ff7f"/><rect x="737" y="500" width="3" height="9" fill="#00ff7f"/><rect x="742" y="488" width="1" height="20" fill="#ff0000"/><rect x="741" y="498" width="3" height="8" fill="#ff0000"/><rect x="746" y="493" width="1" height="12" fill="#00ff7f"/><rect x="745" y="497" width="3" height="2" fill="#00ff7f"/><rect x="750" y="489" width="1" height="12" fill="#00ff7f"/><rect x="749" y="496" width="3" height="3" fill="#00ff7f"/><rect x="754" y="486" width="1" height="15" fill="#ff0000"/><rect x="753" y="488" width="3" height="12" fill="#ff0000"/><rect x="758" y="485" width="1" height="29" fill="#00ff7f"/><rect x="757" y="488" width="3" height="22" fill="#00ff7f"/><rect x="762" y="504" width="1" height="10" fill="#00ff7f"/><rect x="761" y="511" width="3" height="1" fill="#00ff7f"/><rect x="766" y="502" width="1" height="10" fill="#ff0000"/><rect x="765" y="503" width="3" height="9" fill="#ff0000"/><rect x="770" y="503" width="1" height="41" fill="#00ff7f"/><rect x="769" y="503" width="3" height="36" fill="#00ff7f"/><rect x="774" y="506" width="1" height="34" fill="#ff0000"/><rect x="773" y="511" width="3" height="28" fill="#ff0000"/><rect x="778" y="497" width="1" height="21" fill="#ff0000"/><rect x="777" y="503" width="3" height="13" fill="#ff0000"/><rect x="782" y="485" width="1" height="21" fill="#ff0000"/><rect x="781" y="488" width="3" height="15" fill="#ff0000"/><rect x="786" y="475" width="1" height="22" fill="#ff0000"/><rect x="785" y="481" width="3" height="9" fill="#ff0000"/><rect x="790" y="456" width="1" height="28" fill="#ff0000"/><rect x="789" y="467" width="3" height="15" fill="#ff0000"/><rect x="794" y="464" width="1" height="24" fill="#00ff7f"/><rect x="793" y="467" width="3" height="11" fill="#00ff7f"/><rect x="798" y="470" width="1" height="12" fill="#ff0000"/><rect x="797" y="476" width="3" height="5" fill="#ff0000"/><rect x="802" y="465" width="1" height="15" fill="#00ff7f"/><rect x="801" y="475" width="3" height="2" fill="#00ff7f"/><rect x="806" y="474" width="1" height="25" fill="#00ff7f"/><rect x="805" y="476" width="3" height="9" fill="#00ff7f"/><rect x="810" y="466" width="1" height="25" fill="#ff0000"/><rect x="809" y="467" width="3" height="18" fill="#ff0000"/><rect x="814" y="463" width="1" height="18" fill="#00ff7f"/><rect x="813" y="467" width="3" height="11" fill="#00ff7f"/><rect x="818" y="389" width="1" height="57" fill="#00ff7f"/><rect x="817" y="400" width="3" height="26" fill="#00ff7f"/><rect x="822" y="409" width="1" height="33" fill="#ff0000"/><rect x="821" y="416" width="3" height="10" fill="#ff0000"/><rect x="826" y="400" width="1" height="32" fill="#ff0000"/><rect x="825" y="406" width="3" height="11" fill="#ff0000"/><rect x="830" y="343" width="1" height="67" fill="#ff0000"/><rect x="829" y="369" width="3" height="38" fill="#ff0000"/><rect x="834" y="342" width="1" height="52" fill="#ff0000"/><rect x="833" y="359" width="3" height="11" fill="#ff0000"/><rect x="838" y="284" width="1" height="58" fill="#ff0000"/><rect x="837" y="286" width="3" height="48" fill="#ff0000"/><rect x="842" y="285" width="1" height="34" fill="#00ff7f"/><rect x="841" y="286" width="3" height="14" fill="#00ff7f"/><rect x="846" y="286" width="1" height="26" fill="#ff0000"/><rect x="845" y="298" width="3" height="1" fill="#ff0000"/><rect x="850" y="269" width="1" height="31" fill="#ff0000"/><rect x="849" y="270" width="3" height="29" fill="#ff0000"/><rect x="854" y="252" width="1" height="31" fill="#ff0000"/><rect x="853" y="258" width="3" height="13" fill="#ff0000"/><rect x="858" y="256" width="1" height="23" fill="#00ff7f"/><rect x="857" y="267" width="3" height="2" fill="#00ff7f"/><rect x="862" y="255" width="1" height="29" fill="#00ff7f"/><rect x="861" y="268" width="3" height="7" fill="#00ff7f"/><rect x="866" y="261" width="1" height="19" fill="#ff0000"/><rect x="865" y="267" width="3" height="8" fill="#ff0000"/><rect x="870" y="259" width="1" height="20" fill="#00ff7f"/><rect x="869" y="266" width="3" height="7" fill="#00ff7f"/><rect x="874" y="268" width="1" height="27" fill="#00ff7f"/><rect x="873" y="276" width="3" height="15" fill="#00ff7f"/><rect x="878" y="288" width="1" height="20" fill="#00ff7f"/><rect x="877" y="290" width="3" height="6" fill="#00ff7f"/><rect x="882" y="271" width="1" height="27" fill="#ff0000"/><rect x="881" y="282" width="3" height="14" fill="#ff0000"/><rect x="886" y="263" width="1" height="20" fill="#ff0000"/><rect x="885" y="273" width="3" height="8" fill="#ff0000"/><rect x="890" y="266" width="1" height="16" fill="#ff0000"/><rect x="889" y="266" width="3" height="8" fill="#ff0000"/><rect x="894" y="254" width="1" height="27" fill="#00ff7f"/><rect x="893" y="266" width="3" height="5" fill="#00ff7f"/><rect x="898" y="264" width="1" height="25" fill="#00ff7f"/><rect x="897" y="265" width="3" height="22" fill="#00ff7f"/><rect x="902" y="269" width="1" height="21" fill="#ff0000"/><rect x="901" y="280" width="3" height="7" fill="#ff0000"/><rect x="906" y="270" width="1" height="19" fill="#ff0000"/><rect x="905" y="277" width="3" height="2" fill="#ff0000"/><rect x="910" y="270" width="1" height="11" fill="#ff0000"/><rect x="909" y="275" width="3" height="2" fill="#ff0000"/><rect x="914" y="239" width="1" height="42" fill="#ff0000"/><rect x="913" y="258" width="3" height="14" fill="#ff0000"/><rect x="918" y="242" width="1" height="22" fill="#ff0000"/><rect x="917" y="257" width="3" height="3" fill="#ff0000"/><rect x="922" y="253" width="1" height="30" fill="#00ff7f"/><rect x="921" y="257" width="3" height="22" fill="#00ff7f"/><rect x="926" y="268" width="1" height="20" fill="#ff0000"/><rect x="925" y="275" width="3" height="4" fill="#ff0000"/><rect x="930" y="267" width="1" height="12" fill="#ff0000"/><rect x="929" y="271" width="3" height="4" fill="#ff0000"/><rect x="934" y="265" width="1" height="7" fill="#ff0000"/><rect x="933" y="267" width="3" height="5" fill="#ff0000"/><rect x="938" y="268" width="1" height="7" fill="#ff0000"/><rect x="937" y="270" width="3" height="2" fill="#ff0000"/><rect x="942" y="262" width="1" height="48" fill="#00ff7f"/><rect x="941" y="271" width="3" height="39" fill="#00ff7f"/><rect x="946" y="294" width="1" height="24" fill="#00ff7f"/><rect x="945" y="309" width="3" height="4" fill="#00ff7f"/><rect x="950" y="309" width="1" height="52" fill="#00ff7f"/><rect x="949" y="312" width="3" height="34" fill="#00ff7f"/><rect x="954" y="326" width="1" height="47" fill="#ff0000"/><rect x="953" y="341" width="3" height="5" fill="#ff0000"/><rect x="958" y="320" width="1" height="32" fill="#ff0000"/><rect x="957" y="330" width="3" height="21" fill="#ff0000"/><rect x="962" y="315" width="1" height="31" fill="#ff0000"/><rect x="961" y="318" width="3" height="13" fill="#ff0000"/><rect x="966" y="314" width="1" height="27" fill="#00ff7f"/><rect x="965" y="319" width="3" height="2" fill="#00ff7f"/><rect x="970" y="318" width="1" height="20" fill="#00ff7f"/><rect x="969" y="320" width="3" height="15" fill="#00ff7f"/><rect x="974" y="327" width="1" height="20" fill="#00ff7f"/><rect x="973" y="334" width="3" height="3" fill="#00ff7f"/><rect x="978" y="342" width="1" height="45" fill="#ff0000"/><rect x="977" y="349" width="3" height="37" fill="#ff0000"/><rect x="982" y="317" width="1" height="41" fill="#ff0000"/><rect x="981" y="322" width="3" height="28" fill="#ff0000"/><rect x="986" y="304" width="1" height="22" fill="#00ff7f"/><rect x="985" y="322" width="3" height="3" fill="#00ff7f"/><rect x="990" y="322" width="1" height="15" fill="#00ff7f"/><rect x="989" y="324" width="3" height="7" fill="#00ff7f"/><rect x="994" y="305" width="1" height="29" fill="#ff0000"/><rect x="993" y="309" width="3" height="24" fill="#ff0000"/><rect x="998" y="306" width="1" height="16" fill="#00ff7f"/><rect x="997" y="310" width="3" height="6" fill="#00ff7f"/><rect x="1002" y="308" width="1" height="14" fill="#ff0000"/><rect x="1001" y="311" width="3" height="6" fill="#ff0000"/><rect x="1006" y="309" width="1" height="30" fill="#00ff7f"/><rect x="1005" y="311" width="3" height="23" fill="#00ff7f"/><rect x="1010" y="328" width="1" height="19" fill="#ff0000"/><rect x="1009" y="329" width="3" height="5" fill="#ff0000"/><rect x="1014" y="320" width="1" height="15" fill="#ff0000"/><rect x="1013" y="326" width="3" height="4" fill="#ff0000"/><rect x="1018" y="319" width="1" height="18" fill="#00ff7f"/><rect x="1017" y="325" width="3" height="7" fill="#00ff7f"/><rect x="1022" y="323" width="1" height="15" fill="#ff0000"/><rect x="1021" y="326" width="3" height="6" fill="#ff0000"/><rect x="1026" y="321" width="1" height="13" fill="#00ff7f"/><rect x="1025" y="323" width="3" height="5" fill="#00ff7f"/><rect x="1030" y="319" width="1" height="18" fill="#00ff7f"/><rect x="1029" y="328" width="3" height="4" fill="#00ff7f"/><rect x="1034" y="320" width="1" height="15" fill="#ff0000"/><rect x="1033" y="323" width="3" height="9" fill="#ff0000"/><rect x="1038" y="321" width="1" height="10" fill="#ff0000"/><rect x="1037" y="322" width="3" height="7" fill="#ff0000"/><rect x="1042" y="319" width="1" height="6" fill="#ff0000"/><rect x="1041" y="321" width="3" height="2" fill="#ff0000"/><rect x="1046" y="319" width="1" height="17" fill="#00ff7f"/><rect x="1045" y="321" width="3" height="12" fill="#00ff7f"/><rect x="1050" y="326" width="1" height="14" fill="#00ff7f"/><rect x="1049" y="332" width="3" height="2" fill="#00ff7f"/><rect x="1054" y="322" width="1" height="13" fill="#ff0000"/><rect x="1053" y="323" width="3" height="11" fill="#ff0000"/><rect x="1058" y="304" width="1" height="25" fill="#ff0000"/><rect x="1057" y="312" width="3" height="13" fill="#ff0000"/><rect x="1062" y="310" width="1" height="13" fill="#00ff7f"/><rect x="1061" y="312" width="3" height="3" fill="#00ff7f"/><rect x="1066" y="288" width="1" height="32" fill="#ff0000"/><rect x="1065" y="294" width="3" height="22" fill="#ff0000"/><rect x="1070" y="227" width="1" height="70" fill="#ff0000"/><rect x="1069" y="228" width="3" height="66" fill="#ff0000"/><rect x="1074" y="221" width="1" height="32" fill="#ff0000"/><rect x="1073" y="223" width="3" height="8" fill="#ff0000"/><rect x="1078" y="50" width="1" height="177" fill="#ff0000"/><rect x="1077" y="59" width="3" height="157" fill="#ff0000"/><rect x="1082" y="56" width="1" height="99" fill="#00ff7f"/><rect x="1081" y="59" width="3" height="84" fill="#00ff7f"/><rect x="1086" y="95" width="1" height="49" fill="#ff0000"/><rect x="1085" y="107" width="3" height="36" fill="#ff0000"/><rect x="1090" y="92" width="1" height="41" fill="#00ff7f"/><rect x="1089" y="107" width="3" height="3" fill="#00ff7f"/><rect x="1094" y="83" width="1" height="39" fill="#ff0000"/><rect x="1093" y="97" width="3" height="13" fill="#ff0000"/><rect x="1098" y="79" width="1" height="27" fill="#00ff7f"/><rect x="1097" y="92" width="3" height="2" fill="#00ff7f"/><rect x="1102" y="85" width="1" height="128" fill="#00ff7f"/><rect x="1101" y="94" width="3" height="88" fill="#00ff7f"/><rect x="1106" y="138" width="1" height="45" fill="#ff0000"/><rect x="1105" y="147" width="3" height="35" fill="#ff0000"/><rect x="1110" y="129" width="1" height="38" fill="#00ff7f"/><rect x="1109" y="148" width="3" height="2" fill="#00ff7f"/><rect x="1114" y="136" width="1" height="18" fill="#00ff7f"/><rect x="1113" y="150" width="3" height="1" fill="#00ff7f"/><rect x="1118" y="117" width="1" height="37" fill="#ff0000"/><rect x="1117" y="121" width="3" height="32" fill="#ff0000"/><rect x="1122" y="118" width="1" height="12" fill="#00ff7f"/><rect x="1121" y="121" width="3" height="2" fill="#00ff7f"/><rect x="1126" y="121" width="1" height="17" fill="#00ff7f"/><rect x="1125" y="122" width="3" height="6" fill="#00ff7f"/><rect x="1130" y="92" width="1" height="38" fill="#ff0000"/><rect x="1129" y="103" width="3" height="25" fill="#ff0000"/><rect x="1134" y="51" width="1" height="60" fill="#ff0000"/><rect x="1133" y="54" width="3" height="50" fill="#ff0000"/></g>
<g shape-rendering="crispEdges">
<path d="M1131 122h4v1h-4zM1130 122h1v2h-1zM1129 124h1v2h-1zM1128 126h1v2h-1zM1127 128h1v2h-1zM1126 130h1v2h-1zM1125 132h1v2h-1zM1124 134h1v2h-1zM1123 136h1v2h-1zM1122 138h1v2h-1zM1121 140h1v3h-1zM1120 143h1v3h-1zM1119 146h1v3h-1zM1118 149h1v3h-1zM1117 152h1v4h-1zM1116 156h1v3h-1zM1115 159h1v4h-1zM1114 163h1v3h-1zM1113 166h1v3h-1zM1112 169h1v3h-1zM1111 172h1v3h-1zM1110 175h1v3h-1zM1109 178h1v3h-1zM1108 181h1v3h-1zM1107 184h1v3h-1zM1106 187h1v3h-1zM1105 190h1v4h-1zM1104 194h1v3h-1zM1103 197h1v4h-1zM1102 201h1v3h-1zM1101 204h1v2h-1zM1100 206h1v3h-1zM1099 209h1v2h-1zM1098 211h1v3h-1zM1097 214h1v4h-1zM1096 218h1v4h-1zM1095 222h1v4h-1zM1094 226h1v5h-1zM1093 231h1v4h-1zM1092 235h1v4h-1zM1091 239h1v4h-1zM1090 243h1v4h-1zM1089 247h1v4h-1zM1088 251h1v4h-1zM1087 255h1v4h-1zM290 257h6v1h-6zM296 258h2v1h-2zM301 258h4v1h-4zM289 258h1v2h-1zM298 259h3v1h-3zM305 259h3v1h-3zM322 259h3v1h-3zM1086 259h1v3h-1zM308 260h2v1h-2zM320 260h2v1h-2zM325 260h7v1h-7zM288 260h1v2h-1zM310 261h10v1h-10zM332 261h2v1h-2zM334 262h1v1h-1zM369 262h4v1h-4zM287 262h1v2h-1zM1085 262h1v4h-1zM335 263h1v1h-1zM366 263h3v1h-3zM373 263h3v1h-3zM286 264h1v1h-1zM364 264h2v1h-2zM376 264h2v1h-2zM336 264h1v2h-1zM285 265h1v1h-1zM362 265h2v1h-2zM378 265h1v1h-1zM283 266h2v1h-2zM337 266h1v1h-1zM360 266h2v1h-2zM379 266h1v1h-1zM1084 266h1v4h-1zM282 267h1v1h-1zM338 267h1v1h-1zM358 267h2v1h-2zM380 267h1v2h-1zM281 268h1v1h-1zM339 268h2v1h-2zM357 268h1v1h-1zM341 269h1v1h-1zM355 269h2v1h-2zM381 269h1v1h-1zM280 269h1v2h-1zM342 270h2v1h-2zM354 270h1v1h-1zM382 270h1v1h-1zM1083 270h1v4h-1zM279 271h1v1h-1zM344 271h2v1h-2zM352 271h2v1h-2zM383 271h1v2h-1zM278 272h1v1h-1zM346 272h6v1h-6zM937 272h3v1h-3zM276 273h2v1h-2zM384 273h1v1h-1zM934 273h3v1h-3zM940 273h2v1h-2zM274 274h2v1h-2zM932 274h2v1h-2zM942 274h1v1h-1zM385 274h1v2h-1zM1082 274h1v4h-1zM273 275h1v1h-1zM917 275h4v1h-4zM929 275h3v1h-3zM943 275h1v1h-1zM272 276h1v1h-1zM386 276h1v1h-1zM901 276h8v1h-8zM913 276h4v1h-4zM921 276h8v1h-8zM944 276h1v1h-1zM271 277h1v1h-1zM387 277h1v1h-1zM897 277h4v1h-4zM909 277h4v1h-4zM945 277h1v1h-1zM270 278h1v1h-1zM893 278h4v1h-4zM946 278h1v1h-1zM388 278h1v2h-1zM1081 278h1v3h-1zM269 279h1v1h-1zM890 279h3v1h-3zM947 279h1v1h-1zM389 280h1v1h-1zM268 280h1v2h-1zM889 280h1v2h-1zM948 280h1v2h-1zM390 281h1v1h-1zM1080 281h1v4h-1zM267 282h1v1h-1zM391 282h2v1h-2zM949 282h1v1h-1zM888 282h1v2h-1zM266 283h1v1h-1zM393 283h1v1h-1zM950 283h1v1h-1zM265 284h1v1h-1zM394 284h1v1h-1zM951 284h1v1h-1zM887 284h1v2h-1zM263 285h2v1h-2zM395 285h1v1h-1zM952 285h1v1h-1zM1079 285h1v3h-1zM262 286h1v1h-1zM396 286h1v1h-1zM886 286h1v1h-1zM953 286h1v1h-1zM261 287h1v1h-1zM397 287h1v1h-1zM954 287h1v1h-1zM885 287h1v2h-1zM260 288h1v1h-1zM398 288h2v1h-2zM955 288h1v1h-1zM1078 288h1v4h-1zM259 289h1v1h-1zM400 289h2v1h-2zM884 289h1v1h-1zM956 289h1v1h-1zM258 290h1v1h-1zM402 290h1v1h-1zM957 290h1v1h-1zM883 290h1v2h-1zM257 291h1v1h-1zM403 291h2v1h-2zM958 291h1v1h-1zM256 292h1v1h-1zM405 292h1v1h-1zM959 292h2v1h-2zM882 292h1v2h-1zM1077 292h1v5h-1zM255 293h1v1h-1zM406 293h1v1h-1zM961 293h1v1h-1zM254 294h1v1h-1zM407 294h1v1h-1zM962 294h1v1h-1zM881 294h1v2h-1zM408 295h1v1h-1zM963 295h2v1h-2zM253 295h1v2h-1zM409 296h1v1h-1zM965 296h1v1h-1zM880 296h1v2h-1zM252 297h1v1h-1zM410 297h1v1h-1zM966 297h1v1h-1zM1076 297h1v4h-1zM411 298h1v1h-1zM967 298h1v1h-1zM251 298h1v2h-1zM879 298h1v2h-1zM412 299h1v2h-1zM968 299h1v2h-1zM250 300h1v1h-1zM878 300h1v3h-1zM249 301h1v1h-1zM413 301h1v1h-1zM969 301h1v1h-1zM1075 301h1v5h-1zM247 302h2v1h-2zM414 302h1v1h-1zM970 302h1v1h-1zM246 303h1v1h-1zM415 303h2v1h-2zM877 303h1v2h-1zM971 303h1v2h-1zM244 304h2v1h-2zM417 304h1v1h-1zM242 305h2v1h-2zM418 305h1v1h-1zM972 305h1v1h-1zM876 305h1v2h-1zM241 306h1v1h-1zM419 306h1v1h-1zM973 306h1v2h-1zM1074 306h1v3h-1zM240 307h1v1h-1zM420 307h1v2h-1zM875 307h1v2h-1zM239 308h1v1h-1zM974 308h1v1h-1zM238 309h1v1h-1zM421 309h1v1h-1zM975 309h1v1h-1zM1073 309h1v2h-1zM874 309h1v3h-1zM237 310h1v1h-1zM422 310h1v1h-1zM449 310h4v1h-4zM976 310h1v2h-1zM236 311h1v1h-1zM423 311h2v1h-2zM446 311h3v1h-3zM453 311h3v1h-3zM1072 311h1v2h-1zM235 312h1v1h-1zM425 312h1v1h-1zM444 312h2v1h-2zM456 312h2v1h-2zM977 312h1v1h-1zM873 312h1v2h-1zM234 313h1v1h-1zM426 313h1v1h-1zM442 313h2v1h-2zM458 313h2v1h-2zM978 313h1v1h-1zM1071 313h1v2h-1zM233 314h1v1h-1zM427 314h2v1h-2zM441 314h1v1h-1zM460 314h2v1h-2zM979 314h2v1h-2zM872 314h1v2h-1zM231 315h2v1h-2zM429 315h1v1h-1zM440 315h1v1h-1zM462 315h10v1h-10zM981 315h1v1h-1zM1070 315h1v2h-1zM230 316h1v1h-1zM430 316h1v1h-1zM439 316h1v1h-1zM472 316h2v1h-2zM982 316h1v1h-1zM871 316h1v2h-1zM431 317h1v1h-1zM438 317h1v1h-1zM474 317h1v1h-1zM983 317h1v1h-1zM229 317h1v2h-1zM1069 317h1v2h-1zM432 318h1v1h-1zM437 318h1v1h-1zM475 318h2v1h-2zM984 318h1v1h-1zM870 318h1v3h-1zM433 319h1v1h-1zM435 319h2v1h-2zM477 319h1v1h-1zM985 319h1v1h-1zM228 319h1v2h-1zM1068 319h1v2h-1zM434 320h1v1h-1zM478 320h1v1h-1zM986 320h1v1h-1zM479 321h2v1h-2zM987 321h1v1h-1zM227 321h1v2h-1zM1067 321h1v2h-1zM869 321h1v4h-1zM481 322h1v1h-1zM988 322h1v2h-1zM226 323h1v1h-1zM482 323h1v1h-1zM1066 323h1v1h-1zM225 324h1v1h-1zM483 324h1v1h-1zM989 324h1v1h-1zM1041 324h7v1h-7zM1064 324h2v1h-2zM224 325h1v1h-1zM484 325h1v1h-1zM990 325h1v1h-1zM1033 325h8v1h-8zM1048 325h2v1h-2zM1062 325h2v1h-2zM868 325h1v4h-1zM223 326h1v1h-1zM485 326h1v1h-1zM991 326h2v1h-2zM1009 326h8v1h-8zM1029 326h4v1h-4zM1050 326h3v1h-3zM1060 326h2v1h-2zM222 327h1v1h-1zM486 327h1v1h-1zM993 327h1v1h-1zM1005 327h4v1h-4zM1017 327h12v1h-12zM1053 327h7v1h-7zM221 328h1v1h-1zM994 328h11v1h-11zM487 328h1v2h-1zM220 329h1v2h-1zM867 329h1v4h-1zM488 330h1v1h-1zM219 331h1v1h-1zM489 331h1v2h-1zM217 332h2v1h-2zM213 333h4v1h-4zM490 333h1v2h-1zM866 333h1v3h-1zM210 334h3v1h-3zM209 335h1v1h-1zM491 335h1v2h-1zM208 336h1v1h-1zM865 336h1v4h-1zM207 337h1v1h-1zM492 337h1v3h-1zM206 338h1v1h-1zM205 339h1v1h-1zM204 340h1v1h-1zM493 340h1v2h-1zM864 340h1v3h-1zM203 341h1v1h-1zM201 342h2v1h-2zM494 342h1v3h-1zM197 343h4v1h-4zM863 343h1v4h-1zM193 344h4v1h-4zM190 345h3v1h-3zM495 345h1v3h-1zM94 346h1v1h-1zM188 346h2v1h-2zM81 347h4v1h-4zM93 347h1v1h-1zM95 347h1v1h-1zM186 347h2v1h-2zM862 347h1v3h-1zM77 348h4v1h-4zM85 348h3v1h-3zM92 348h1v1h-1zM184 348h2v1h-2zM96 348h1v2h-1zM496 348h1v2h-1zM74 349h3v1h-3zM88 349h2v1h-2zM91 349h1v1h-1zM166 349h3v1h-3zM181 349h3v1h-3zM73 350h1v1h-1zM90 350h1v1h-1zM97 350h1v1h-1zM165 350h1v1h-1zM169 350h4v1h-4zM177 350h4v1h-4zM497 350h1v3h-1zM861 350h1v4h-1zM71 351h2v1h-2zM98 351h3v1h-3zM163 351h2v1h-2zM173 351h4v1h-4zM101 352h3v1h-3zM162 352h1v1h-1zM70 352h1v2h-1zM104 353h2v1h-2zM161 353h1v2h-1zM498 353h1v3h-1zM106 354h1v1h-1zM69 354h1v2h-1zM860 354h1v4h-1zM107 355h2v1h-2zM160 355h1v2h-1zM109 356h1v1h-1zM68 356h1v2h-1zM499 356h1v2h-1zM110 357h5v1h-5zM159 357h1v2h-1zM115 358h2v1h-2zM67 358h1v2h-1zM500 358h1v3h-1zM859 358h1v4h-1zM117 359h1v1h-1zM158 359h1v1h-1zM118 360h1v1h-1zM157 360h1v2h-1zM66 360h1v3h-1zM119 361h1v1h-1zM501 361h1v2h-1zM156 362h1v1h-1zM120 362h1v2h-1zM858 362h1v3h-1zM155 363h1v2h-1zM65 363h1v3h-1zM502 363h1v3h-1zM121 364h1v1h-1zM146 364h1v1h-1zM122 365h1v1h-1zM144 365h2v1h-2zM147 365h1v1h-1zM154 365h1v1h-1zM857 365h1v4h-1zM142 366h2v1h-2zM153 366h1v1h-1zM64 366h1v2h-1zM123 366h1v2h-1zM148 366h1v2h-1zM503 366h1v2h-1zM141 367h1v1h-1zM152 367h1v1h-1zM139 368h2v1h-2zM149 368h1v1h-1zM151 368h1v1h-1zM124 368h1v2h-1zM63 368h1v3h-1zM504 368h1v3h-1zM138 369h1v1h-1zM150 369h1v1h-1zM856 369h1v4h-1zM137 370h1v1h-1zM125 370h1v2h-1zM135 371h2v1h-2zM62 371h1v2h-1zM505 371h1v2h-1zM126 372h2v1h-2zM134 372h1v1h-1zM128 373h2v1h-2zM132 373h2v1h-2zM61 373h1v2h-1zM506 373h1v3h-1zM855 373h1v4h-1zM130 374h2v1h-2zM60 375h1v2h-1zM507 376h1v2h-1zM59 377h1v2h-1zM854 377h1v3h-1zM508 378h1v2h-1zM58 379h1v1h-1zM57 380h1v1h-1zM509 380h1v2h-1zM853 380h1v4h-1zM56 381h1v2h-1zM510 382h1v2h-1zM55 383h1v1h-1zM54 384h1v1h-1zM511 384h1v2h-1zM852 384h1v4h-1zM53 385h1v1h-1zM52 386h1v1h-1zM512 386h1v2h-1zM51 387h1v1h-1zM50 388h1v1h-1zM513 388h1v2h-1zM851 388h1v4h-1zM49 389h1v1h-1zM48 390h1v1h-1zM514 390h1v1h-1zM47 391h1v1h-1zM515 391h1v1h-1zM46 392h1v1h-1zM516 392h1v2h-1zM850 392h1v4h-1zM45 393h1v1h-1zM44 394h1v1h-1zM517 394h1v1h-1zM43 395h1v1h-1zM518 395h1v1h-1zM519 396h1v1h-1zM42 396h1v2h-1zM849 396h1v4h-1zM520 397h1v2h-1zM41 398h1v3h-1zM521 399h1v1h-1zM522 400h1v1h-1zM848 400h1v4h-1zM523 401h1v1h-1zM40 401h1v2h-1zM524 402h1v2h-1zM39 403h1v3h-1zM525 404h1v1h-1zM847 404h1v4h-1zM526 405h1v1h-1zM527 406h1v2h-1zM38 406h1v3h-1zM528 408h1v2h-1zM846 408h1v3h-1zM37 409h1v2h-1zM529 410h1v2h-1zM36 411h1v3h-1zM845 411h1v3h-1zM530 412h1v1h-1zM531 413h1v1h-1zM35 414h1v2h-1zM532 414h1v2h-1zM844 414h1v3h-1zM533 416h1v1h-1zM34 416h1v3h-1zM534 417h1v1h-1zM843 417h1v3h-1zM535 418h1v2h-1zM33 419h1v3h-1zM536 420h1v2h-1zM842 420h1v3h-1zM537 422h1v2h-1zM32 422h1v4h-1zM841 423h1v3h-1zM538 424h1v1h-1zM539 425h1v2h-1zM31 426h1v3h-1zM840 426h1v4h-1zM540 427h1v2h-1zM541 429h1v2h-1zM30 429h1v3h-1zM839 430h1v3h-1zM542 431h1v1h-1zM543 432h1v1h-1zM29 432h1v2h-1zM544 433h1v2h-1zM838 433h1v3h-1zM28 434h1v3h-1zM545 435h1v1h-1zM546 436h1v1h-1zM837 436h1v4h-1zM27 437h1v2h-1zM547 437h1v2h-1zM548 439h1v1h-1zM26 439h1v3h-1zM549 440h1v2h-1zM836 440h1v3h-1zM550 442h1v1h-1zM25 442h1v2h-1zM551 443h1v1h-1zM609 443h2v1h-2zM835 443h1v4h-1zM552 444h1v1h-1zM606 444h3v1h-3zM611 444h2v1h-2zM24 444h1v3h-1zM553 445h1v1h-1zM565 445h7v1h-7zM604 445h2v1h-2zM613 445h1v1h-1zM554 446h11v1h-11zM572 446h2v1h-2zM602 446h2v1h-2zM614 446h1v1h-1zM574 447h3v1h-3zM600 447h2v1h-2zM23 447h1v2h-1zM615 447h1v2h-1zM834 447h1v3h-1zM577 448h4v1h-4zM597 448h3v1h-3zM581 449h3v1h-3zM594 449h3v1h-3zM616 449h1v1h-1zM22 449h1v3h-1zM584 450h2v1h-2zM593 450h1v1h-1zM617 450h1v2h-1zM833 450h1v2h-1zM586 451h3v1h-3zM591 451h2v1h-2zM589 452h2v1h-2zM618 452h1v1h-1zM21 452h1v3h-1zM832 452h1v3h-1zM619 453h1v1h-1zM620 454h1v2h-1zM20 455h1v2h-1zM831 455h1v2h-1zM621 456h1v1h-1zM622 457h1v1h-1zM19 457h1v3h-1zM830 457h1v3h-1zM623 458h1v2h-1zM624 460h1v2h-1zM829 460h1v2h-1zM18 460h1v3h-1zM625 462h1v2h-1zM828 462h1v3h-1zM17 463h1v3h-1zM626 464h1v2h-1zM827 465h1v2h-1zM627 466h1v2h-1zM16 466h1v3h-1zM826 467h1v3h-1zM628 468h1v2h-1zM15 469h1v3h-1zM629 470h1v2h-1zM825 470h1v2h-1zM630 472h1v2h-1zM14 472h1v3h-1zM824 472h1v3h-1zM631 474h1v2h-1zM823 475h1v2h-1zM13 475h1v3h-1zM632 476h1v1h-1zM633 477h1v2h-1zM822 477h1v2h-1zM12 478h1v4h-1zM634 479h1v1h-1zM821 479h1v2h-1zM635 480h1v2h-1zM820 481h1v1h-1zM636 482h1v2h-1zM819 482h1v2h-1zM11 482h1v3h-1zM818 484h1v1h-1zM637 484h1v2h-1zM10 485h1v2h-1zM817 485h1v2h-1zM638 486h1v1h-1zM639 487h1v1h-1zM816 487h1v1h-1zM9 487h1v2h-1zM640 488h1v2h-1zM815 488h1v2h-1zM8 489h1v1h-1zM641 490h1v1h-1zM814 490h1v1h-1zM7 490h1v2h-1zM642 491h1v1h-1zM813 491h1v1h-1zM6 492h1v1h-1zM811 492h2v1h-2zM643 492h1v2h-1zM809 493h2v1h-2zM644 494h1v1h-1zM805 494h4v1h-4zM746 495h11v1h-11zM802 495h3v1h-3zM645 495h1v2h-1zM726 496h3v1h-3zM745 496h1v1h-1zM757 496h4v1h-4zM800 496h2v1h-2zM646 497h1v1h-1zM724 497h2v1h-2zM729 497h8v1h-8zM743 497h2v1h-2zM761 497h4v1h-4zM797 497h3v1h-3zM647 498h1v1h-1zM721 498h3v1h-3zM737 498h6v1h-6zM765 498h2v1h-2zM794 498h3v1h-3zM709 499h12v1h-12zM767 499h1v1h-1zM792 499h2v1h-2zM648 499h1v2h-1zM701 500h8v1h-8zM790 500h2v1h-2zM768 500h1v2h-1zM649 501h1v1h-1zM686 501h3v1h-3zM697 501h4v1h-4zM789 501h1v1h-1zM650 502h1v1h-1zM685 502h1v1h-1zM689 502h8v1h-8zM769 502h1v1h-1zM787 502h2v1h-2zM651 503h2v1h-2zM683 503h2v1h-2zM770 503h3v1h-3zM786 503h1v1h-1zM653 504h1v1h-1zM682 504h1v1h-1zM773 504h4v1h-4zM784 504h2v1h-2zM654 505h1v1h-1zM681 505h1v1h-1zM777 505h7v1h-7zM655 506h2v1h-2zM679 506h2v1h-2zM657 507h1v1h-1zM678 507h1v1h-1zM658 508h3v1h-3zM676 508h2v1h-2zM661 509h7v1h-7zM674 509h2v1h-2zM668 510h2v1h-2zM672 510h2v1h-2zM670 511h2v1h-2z" fill="#ff0000"/>
<path d="M1102 113h1v2h-1zM1101 114h1v2h-1zM1103 115h1v3h-1zM1100 116h1v1h-1zM1099 117h1v2h-1zM1104 118h1v4h-1zM1134 119h1v2h-1zM1098 119h1v3h-1zM1133 121h1v3h-1zM1105 122h1v3h-1zM1097 122h1v5h-1zM1132 124h1v4h-1zM1106 125h1v2h-1zM1107 126h2v1h-2zM1109 127h2v1h-2zM1096 127h1v4h-1zM1111 128h1v2h-1zM1131 128h1v3h-1zM1112 130h1v1h-1zM1113 131h1v2h-1zM1130 131h1v3h-1zM1095 131h1v5h-1zM1114 133h2v1h-2zM1116 134h2v1h-2zM1129 134h1v3h-1zM1118 135h1v1h-1zM1119 136h2v1h-2zM1094 136h1v6h-1zM1121 137h1v1h-1zM1128 137h1v2h-1zM1122 138h1v1h-1zM1123 139h1v1h-1zM1127 139h1v3h-1zM1124 140h1v2h-1zM1125 142h1v1h-1zM1126 142h1v2h-1zM1093 142h1v7h-1zM1092 149h1v7h-1zM1091 156h1v7h-1zM1090 163h1v7h-1zM1089 170h1v8h-1zM1088 178h1v7h-1zM1087 185h1v8h-1zM1086 193h1v7h-1zM1085 200h1v7h-1zM1084 207h1v8h-1zM1083 215h1v7h-1zM1082 222h1v7h-1zM1081 229h1v6h-1zM1080 235h1v7h-1zM290 241h2v1h-2zM289 242h1v1h-1zM292 242h2v1h-2zM1079 242h1v6h-1zM288 243h1v2h-1zM294 243h1v2h-1zM287 245h1v1h-1zM295 245h1v2h-1zM286 246h1v1h-1zM285 247h1v1h-1zM296 247h1v2h-1zM284 248h1v2h-1zM1078 248h1v8h-1zM297 249h1v2h-1zM283 250h1v1h-1zM282 251h1v1h-1zM298 251h1v2h-1zM281 252h1v1h-1zM280 253h1v1h-1zM299 253h1v1h-1zM279 254h1v1h-1zM300 254h1v2h-1zM278 255h1v1h-1zM277 256h1v1h-1zM301 256h1v1h-1zM1077 256h1v10h-1zM276 257h1v1h-1zM302 257h1v1h-1zM275 258h1v1h-1zM303 258h1v2h-1zM274 259h1v1h-1zM304 260h1v1h-1zM273 260h1v2h-1zM378 260h1v2h-1zM377 261h1v1h-1zM305 261h1v2h-1zM334 262h7v1h-7zM369 262h3v1h-3zM376 262h1v1h-1zM272 262h1v2h-1zM379 262h1v2h-1zM332 263h2v1h-2zM341 263h6v1h-6zM366 263h3v1h-3zM372 263h2v1h-2zM375 263h1v1h-1zM306 263h1v2h-1zM330 264h2v1h-2zM365 264h1v1h-1zM374 264h1v1h-1zM271 264h1v2h-1zM347 264h1v2h-1zM380 264h1v2h-1zM329 265h1v1h-1zM307 265h1v2h-1zM364 265h1v2h-1zM270 266h1v1h-1zM328 266h1v1h-1zM348 266h1v1h-1zM381 266h1v2h-1zM1076 266h1v10h-1zM269 267h1v1h-1zM327 267h1v1h-1zM363 267h1v1h-1zM308 267h1v2h-1zM349 267h1v2h-1zM268 268h1v1h-1zM326 268h1v1h-1zM362 268h1v1h-1zM937 268h1v1h-1zM382 268h1v2h-1zM938 268h1v2h-1zM267 269h1v1h-1zM350 269h2v1h-2zM361 269h1v1h-1zM933 269h4v1h-4zM309 269h1v2h-1zM325 269h1v2h-1zM266 270h1v1h-1zM352 270h2v1h-2zM359 270h2v1h-2zM930 270h3v1h-3zM939 270h1v2h-1zM383 270h1v4h-1zM265 271h1v1h-1zM310 271h1v1h-1zM354 271h5v1h-5zM928 271h2v1h-2zM324 271h1v2h-1zM263 272h2v1h-2zM311 272h1v1h-1zM873 272h2v1h-2zM917 272h4v1h-4zM925 272h3v1h-3zM940 272h1v2h-1zM870 273h3v1h-3zM875 273h1v1h-1zM914 273h3v1h-3zM921 273h4v1h-4zM262 273h1v2h-1zM312 273h1v2h-1zM323 273h1v2h-1zM869 274h1v1h-1zM876 274h1v1h-1zM913 274h1v1h-1zM941 274h1v2h-1zM384 274h1v3h-1zM313 275h1v1h-1zM322 275h1v1h-1zM868 275h1v1h-1zM877 275h1v1h-1zM911 275h2v1h-2zM261 275h1v2h-1zM314 276h1v1h-1zM867 276h1v1h-1zM878 276h1v1h-1zM909 276h2v1h-2zM321 276h1v2h-1zM942 276h1v2h-1zM1075 276h1v10h-1zM315 277h1v1h-1zM866 277h1v1h-1zM879 277h2v1h-2zM906 277h3v1h-3zM260 277h1v2h-1zM385 277h1v4h-1zM320 278h1v1h-1zM864 278h2v1h-2zM881 278h1v1h-1zM890 278h3v1h-3zM904 278h2v1h-2zM316 278h1v2h-1zM943 278h1v2h-1zM863 279h1v1h-1zM882 279h3v1h-3zM888 279h2v1h-2zM893 279h3v1h-3zM902 279h2v1h-2zM259 279h1v2h-1zM319 279h1v2h-1zM862 279h1v2h-1zM317 280h1v1h-1zM885 280h3v1h-3zM896 280h2v1h-2zM900 280h2v1h-2zM944 280h1v2h-1zM318 281h1v1h-1zM898 281h2v1h-2zM258 281h1v2h-1zM386 281h1v3h-1zM861 281h1v3h-1zM257 282h1v1h-1zM945 282h1v2h-1zM254 283h3v1h-3zM253 284h1v2h-1zM946 284h1v2h-1zM387 284h1v3h-1zM860 284h1v3h-1zM252 286h1v1h-1zM947 286h1v2h-1zM1074 286h1v6h-1zM251 287h1v2h-1zM388 287h1v3h-1zM859 287h1v3h-1zM948 288h1v2h-1zM246 289h5v1h-5zM244 290h2v1h-2zM949 290h1v2h-1zM389 290h1v3h-1zM858 290h1v3h-1zM242 291h2v1h-2zM241 292h1v1h-1zM950 292h1v3h-1zM1073 292h1v4h-1zM240 293h1v1h-1zM390 293h1v3h-1zM857 293h1v4h-1zM239 294h1v1h-1zM238 295h1v1h-1zM951 295h1v2h-1zM237 296h1v1h-1zM391 296h1v3h-1zM1072 296h1v4h-1zM236 297h1v1h-1zM952 297h1v3h-1zM856 297h1v4h-1zM235 298h1v1h-1zM230 299h5v1h-5zM392 299h1v2h-1zM229 300h1v2h-1zM953 300h1v2h-1zM1071 300h1v4h-1zM393 301h1v3h-1zM855 301h1v4h-1zM228 302h1v1h-1zM954 302h1v3h-1zM227 303h1v2h-1zM394 304h1v3h-1zM1070 304h1v4h-1zM226 305h1v1h-1zM442 305h3v1h-3zM955 305h1v2h-1zM854 305h1v4h-1zM441 306h1v1h-1zM445 306h7v1h-7zM225 306h1v2h-1zM439 307h2v1h-2zM452 307h2v1h-2zM395 307h1v2h-1zM956 307h1v2h-1zM224 308h1v1h-1zM438 308h1v1h-1zM454 308h1v1h-1zM1069 308h1v3h-1zM455 309h1v1h-1zM223 309h1v2h-1zM396 309h1v2h-1zM437 309h1v2h-1zM957 309h1v2h-1zM853 309h1v5h-1zM456 310h1v1h-1zM222 311h1v1h-1zM457 311h1v1h-1zM958 311h1v1h-1zM397 311h1v2h-1zM436 311h1v2h-1zM1068 311h1v4h-1zM221 312h1v1h-1zM458 312h1v1h-1zM959 312h1v2h-1zM425 313h3v1h-3zM459 313h2v1h-2zM220 313h1v2h-1zM398 313h1v2h-1zM435 313h1v2h-1zM422 314h3v1h-3zM428 314h2v1h-2zM461 314h1v1h-1zM960 314h1v2h-1zM852 314h1v6h-1zM219 315h1v1h-1zM399 315h2v1h-2zM421 315h1v1h-1zM430 315h5v1h-5zM462 315h1v2h-1zM1067 315h1v3h-1zM218 316h1v1h-1zM401 316h1v1h-1zM419 316h2v1h-2zM961 316h1v2h-1zM217 317h1v1h-1zM418 317h1v1h-1zM402 317h1v2h-1zM463 317h1v2h-1zM215 318h2v1h-2zM417 318h1v1h-1zM962 318h1v2h-1zM1066 318h1v2h-1zM214 319h1v1h-1zM403 319h1v2h-1zM416 319h1v2h-1zM464 319h1v2h-1zM213 320h1v1h-1zM1065 320h1v1h-1zM963 320h1v2h-1zM851 320h1v5h-1zM212 321h1v1h-1zM415 321h1v1h-1zM1006 321h3v1h-3zM1064 321h1v1h-1zM404 321h1v2h-1zM465 321h1v2h-1zM211 322h1v1h-1zM414 322h1v1h-1zM1004 322h2v1h-2zM1009 322h10v1h-10zM1063 322h1v1h-1zM964 322h1v2h-1zM210 323h1v1h-1zM413 323h1v1h-1zM466 323h1v1h-1zM1002 323h2v1h-2zM1019 323h2v1h-2zM1061 323h2v1h-2zM405 323h1v2h-1zM209 324h1v1h-1zM412 324h1v1h-1zM467 324h2v1h-2zM1001 324h1v1h-1zM1021 324h1v1h-1zM1058 324h3v1h-3zM965 324h1v2h-1zM406 325h3v1h-3zM411 325h1v1h-1zM469 325h1v1h-1zM1000 325h1v1h-1zM1022 325h2v1h-2zM1057 325h1v1h-1zM208 325h1v2h-1zM850 325h1v5h-1zM409 326h2v1h-2zM470 326h2v1h-2zM966 326h1v1h-1zM999 326h1v1h-1zM1024 326h2v1h-2zM1041 326h7v1h-7zM1055 326h2v1h-2zM75 327h4v1h-4zM207 327h1v1h-1zM472 327h2v1h-2zM967 327h2v1h-2zM998 327h1v1h-1zM1026 327h1v1h-1zM1037 327h4v1h-4zM1048 327h2v1h-2zM1053 327h2v1h-2zM74 327h1v2h-1zM79 328h2v1h-2zM206 328h1v1h-1zM474 328h1v1h-1zM969 328h1v1h-1zM997 328h1v1h-1zM1027 328h2v1h-2zM1034 328h3v1h-3zM1050 328h3v1h-3zM81 329h1v1h-1zM205 329h1v1h-1zM475 329h1v1h-1zM970 329h1v1h-1zM995 329h2v1h-2zM1029 329h1v1h-1zM1032 329h2v1h-2zM73 329h1v2h-1zM82 330h1v1h-1zM971 330h1v1h-1zM982 330h7v1h-7zM993 330h2v1h-2zM1030 330h2v1h-2zM204 330h1v2h-1zM476 330h1v2h-1zM849 330h1v5h-1zM972 331h1v1h-1zM981 331h1v1h-1zM989 331h4v1h-4zM72 331h1v2h-1zM83 331h1v2h-1zM203 332h1v1h-1zM477 332h1v1h-1zM973 332h1v1h-1zM979 332h2v1h-2zM84 333h1v1h-1zM202 333h1v1h-1zM478 333h1v1h-1zM974 333h5v1h-5zM71 333h1v2h-1zM479 334h1v1h-1zM85 334h1v2h-1zM201 334h1v2h-1zM480 335h1v2h-1zM70 335h1v3h-1zM848 335h1v6h-1zM86 336h1v1h-1zM200 336h1v2h-1zM481 337h1v1h-1zM87 337h1v2h-1zM482 338h1v1h-1zM199 338h1v2h-1zM69 338h1v3h-1zM483 339h1v1h-1zM88 339h1v2h-1zM484 340h1v1h-1zM198 340h1v2h-1zM162 341h2v1h-2zM485 341h1v1h-1zM89 341h1v2h-1zM68 341h1v3h-1zM847 341h1v5h-1zM164 342h2v1h-2zM197 342h1v1h-1zM161 342h1v2h-1zM486 342h1v2h-1zM90 343h3v1h-3zM166 343h2v1h-2zM195 343h2v1h-2zM93 344h1v1h-1zM168 344h2v1h-2zM194 344h1v1h-1zM160 344h1v2h-1zM487 344h1v2h-1zM67 344h1v3h-1zM94 344h1v3h-1zM170 345h1v1h-1zM182 345h3v1h-3zM193 345h1v1h-1zM181 346h1v1h-1zM185 346h3v1h-3zM192 346h1v1h-1zM159 346h1v2h-1zM171 346h1v2h-1zM488 346h1v2h-1zM846 346h1v5h-1zM180 347h1v1h-1zM188 347h2v1h-2zM191 347h1v1h-1zM66 347h1v2h-1zM95 347h1v6h-1zM158 348h1v1h-1zM172 348h1v1h-1zM179 348h1v1h-1zM190 348h1v1h-1zM489 348h1v2h-1zM157 349h1v1h-1zM178 349h1v1h-1zM65 349h1v2h-1zM173 349h1v2h-1zM176 350h2v1h-2zM156 350h1v2h-1zM490 350h1v3h-1zM146 351h3v1h-3zM174 351h2v1h-2zM64 351h1v2h-1zM845 351h1v4h-1zM145 352h1v1h-1zM149 352h4v1h-4zM155 352h1v1h-1zM144 353h1v1h-1zM153 353h2v1h-2zM63 353h1v2h-1zM491 353h1v3h-1zM96 353h1v5h-1zM143 354h1v1h-1zM138 355h5v1h-5zM62 355h1v2h-1zM844 355h1v5h-1zM137 356h1v2h-1zM492 356h1v3h-1zM61 357h1v1h-1zM59 358h2v1h-2zM136 358h1v2h-1zM97 358h1v6h-1zM58 359h1v1h-1zM493 359h1v3h-1zM57 360h1v2h-1zM135 360h1v2h-1zM843 360h1v4h-1zM56 362h1v1h-1zM134 362h1v2h-1zM494 362h1v4h-1zM55 363h1v2h-1zM133 364h1v2h-1zM98 364h1v4h-1zM842 364h1v6h-1zM54 365h1v1h-1zM53 366h1v1h-1zM132 366h1v2h-1zM495 366h1v4h-1zM42 367h1v1h-1zM52 367h1v1h-1zM43 368h2v1h-2zM51 368h1v1h-1zM41 368h1v2h-1zM131 368h1v2h-1zM99 368h1v3h-1zM45 369h1v1h-1zM49 369h2v1h-2zM40 370h1v1h-1zM46 370h3v1h-3zM130 370h1v1h-1zM496 370h1v5h-1zM841 370h1v6h-1zM39 371h1v2h-1zM100 371h1v2h-1zM129 371h1v2h-1zM38 373h1v2h-1zM128 373h1v2h-1zM101 373h1v3h-1zM127 375h1v2h-1zM37 375h1v4h-1zM497 375h1v4h-1zM102 376h1v2h-1zM840 376h1v6h-1zM114 377h4v1h-4zM118 377h1v2h-1zM126 377h1v2h-1zM103 378h1v1h-1zM113 378h1v2h-1zM104 379h1v1h-1zM119 379h1v2h-1zM125 379h1v2h-1zM36 379h1v4h-1zM498 379h1v5h-1zM105 380h1v1h-1zM112 380h1v1h-1zM106 381h2v1h-2zM111 381h1v2h-1zM120 381h1v2h-1zM124 381h1v2h-1zM108 382h2v1h-2zM839 382h1v6h-1zM110 383h1v1h-1zM121 383h1v2h-1zM123 383h1v2h-1zM35 383h1v4h-1zM499 384h1v5h-1zM122 385h1v2h-1zM34 387h1v3h-1zM838 388h1v7h-1zM500 389h1v4h-1zM33 390h1v3h-1zM32 393h1v2h-1zM501 393h1v5h-1zM31 395h1v3h-1zM837 395h1v6h-1zM30 398h1v2h-1zM502 398h1v4h-1zM29 400h1v1h-1zM27 401h2v1h-2zM836 401h1v7h-1zM26 402h1v1h-1zM503 402h1v4h-1zM25 403h1v1h-1zM24 404h1v1h-1zM23 405h1v1h-1zM22 406h1v1h-1zM504 406h1v3h-1zM21 407h1v2h-1zM835 408h1v6h-1zM20 409h1v2h-1zM505 409h1v4h-1zM19 411h1v2h-1zM18 413h1v3h-1zM506 413h1v3h-1zM834 414h1v6h-1zM17 416h1v3h-1zM507 416h1v3h-1zM16 419h1v3h-1zM508 419h1v4h-1zM534 420h3v1h-3zM833 420h1v4h-1zM533 421h1v1h-1zM537 421h2v1h-2zM532 422h1v1h-1zM539 422h2v1h-2zM15 422h1v3h-1zM531 423h1v1h-1zM541 423h1v1h-1zM509 423h1v3h-1zM530 424h1v1h-1zM542 424h1v2h-1zM832 424h1v5h-1zM529 425h1v1h-1zM14 425h1v3h-1zM528 426h1v2h-1zM543 426h1v2h-1zM510 426h1v3h-1zM527 428h1v1h-1zM544 428h1v2h-1zM13 428h1v4h-1zM526 429h1v1h-1zM594 429h3v1h-3zM511 429h1v3h-1zM831 429h1v4h-1zM593 430h1v1h-1zM597 430h3v1h-3zM525 430h1v2h-1zM545 430h1v2h-1zM591 431h2v1h-2zM600 431h2v1h-2zM589 432h2v1h-2zM602 432h1v1h-1zM524 432h1v2h-1zM546 432h1v2h-1zM12 432h1v3h-1zM512 432h1v3h-1zM586 433h3v1h-3zM603 433h1v2h-1zM830 433h1v4h-1zM584 434h2v1h-2zM523 434h1v2h-1zM547 434h1v4h-1zM583 435h1v1h-1zM604 435h1v1h-1zM582 435h1v2h-1zM513 435h1v3h-1zM11 435h1v4h-1zM522 436h1v2h-1zM605 436h1v2h-1zM581 437h1v4h-1zM829 437h1v4h-1zM520 438h2v1h-2zM514 438h1v2h-1zM606 438h1v2h-1zM548 438h1v4h-1zM515 439h5v1h-5zM10 439h1v2h-1zM607 440h1v3h-1zM9 441h1v2h-1zM580 441h1v3h-1zM828 441h1v4h-1zM549 442h1v4h-1zM8 443h1v1h-1zM608 443h1v4h-1zM7 444h1v2h-1zM579 444h1v4h-1zM827 445h1v4h-1zM6 446h1v1h-1zM550 446h1v4h-1zM609 447h1v3h-1zM578 448h1v3h-1zM826 449h1v4h-1zM610 450h1v2h-1zM551 450h1v4h-1zM577 451h1v3h-1zM611 452h1v2h-1zM825 453h1v2h-1zM612 454h1v2h-1zM576 454h1v3h-1zM552 454h1v4h-1zM824 455h1v3h-1zM613 456h1v2h-1zM575 457h1v3h-1zM614 458h1v2h-1zM823 458h1v2h-1zM553 458h1v4h-1zM574 460h1v2h-1zM615 460h1v3h-1zM822 460h1v3h-1zM554 462h1v2h-1zM573 462h1v2h-1zM821 463h1v2h-1zM616 463h1v4h-1zM555 464h1v1h-1zM572 464h1v1h-1zM556 465h1v2h-1zM571 465h1v2h-1zM820 465h1v2h-1zM557 467h1v1h-1zM570 467h1v1h-1zM819 467h1v2h-1zM617 467h1v3h-1zM558 468h1v1h-1zM569 468h1v1h-1zM559 469h2v1h-2zM567 469h2v1h-2zM818 469h1v2h-1zM561 470h1v1h-1zM565 470h2v1h-2zM618 470h1v3h-1zM562 471h3v1h-3zM817 471h1v1h-1zM816 472h1v2h-1zM619 473h1v4h-1zM815 474h1v1h-1zM813 475h2v1h-2zM810 476h3v1h-3zM809 477h1v1h-1zM620 477h1v4h-1zM807 478h2v1h-2zM806 479h1v1h-1zM804 480h2v1h-2zM802 481h2v1h-2zM621 481h1v4h-1zM801 482h1v1h-1zM800 483h1v2h-1zM799 485h1v1h-1zM622 485h1v3h-1zM798 486h1v2h-1zM797 488h1v2h-1zM623 488h1v3h-1zM721 490h12v1h-12zM796 490h1v2h-1zM718 491h3v1h-3zM733 491h2v1h-2zM624 491h1v4h-1zM735 492h1v1h-1zM717 492h1v2h-1zM795 492h1v2h-1zM736 493h1v2h-1zM716 494h1v2h-1zM794 494h1v2h-1zM737 495h1v1h-1zM625 495h1v3h-1zM674 496h6v1h-6zM738 496h2v1h-2zM793 496h1v1h-1zM715 496h1v2h-1zM662 497h3v1h-3zM673 497h1v1h-1zM680 497h2v1h-2zM740 497h2v1h-2zM792 497h1v1h-1zM661 498h1v1h-1zM665 498h4v1h-4zM671 498h2v1h-2zM682 498h2v1h-2zM714 498h1v1h-1zM742 498h2v1h-2zM791 498h1v1h-1zM626 498h1v3h-1zM669 499h2v1h-2zM684 499h2v1h-2zM713 499h1v1h-1zM744 499h2v1h-2zM790 499h1v1h-1zM660 499h1v2h-1zM686 500h1v1h-1zM711 500h2v1h-2zM746 500h11v1h-11zM789 500h1v2h-1zM659 501h1v1h-1zM710 501h1v1h-1zM757 501h4v1h-4zM765 501h2v1h-2zM687 501h1v2h-1zM627 501h1v4h-1zM658 502h1v1h-1zM708 502h2v1h-2zM761 502h4v1h-4zM788 502h1v1h-1zM767 502h1v2h-1zM698 503h3v1h-3zM705 503h3v1h-3zM657 503h1v2h-1zM688 503h1v2h-1zM787 503h1v2h-1zM697 504h1v1h-1zM701 504h4v1h-4zM768 504h1v1h-1zM695 505h2v1h-2zM786 505h1v1h-1zM656 505h1v2h-1zM689 505h1v2h-1zM769 505h1v2h-1zM628 505h1v4h-1zM693 506h2v1h-2zM785 506h1v1h-1zM690 507h3v1h-3zM770 507h2v1h-2zM784 507h1v1h-1zM655 507h1v2h-1zM772 508h2v1h-2zM783 508h1v1h-1zM774 509h9v1h-9zM654 509h1v2h-1zM629 509h1v4h-1zM653 511h1v2h-1zM630 513h1v2h-1zM652 513h1v2h-1zM631 515h1v2h-1zM651 515h1v2h-1zM632 517h1v2h-1zM650 517h1v2h-1zM649 519h1v1h-1zM633 519h1v2h-1zM637 520h2v1h-2zM648 520h1v2h-1zM634 521h3v1h-3zM639 521h2v1h-2zM641 522h1v1h-1zM647 522h1v1h-1zM642 523h5v1h-5z" fill="#0000cd"/>
<path d="M1134 165h1v2h-1zM1133 167h1v3h-1zM1132 170h1v4h-1zM1131 174h1v3h-1zM1130 177h1v3h-1zM1129 180h1v3h-1zM1128 183h1v2h-1zM1127 185h1v3h-1zM1126 188h1v3h-1zM1125 191h1v2h-1zM1124 193h1v2h-1zM1123 195h1v2h-1zM1122 197h1v3h-1zM1121 200h1v2h-1zM1120 202h1v3h-1zM1119 205h1v2h-1zM1118 207h1v3h-1zM1117 210h1v2h-1zM1116 212h1v3h-1zM1115 215h1v2h-1zM1114 217h1v2h-1zM1113 219h1v2h-1zM1112 221h1v2h-1zM1111 223h1v2h-1zM1110 225h1v3h-1zM1109 228h1v2h-1zM1108 230h1v2h-1zM1107 232h1v2h-1zM1106 234h1v2h-1zM1105 236h1v2h-1zM1104 238h1v2h-1zM1103 240h1v2h-1zM1102 242h1v2h-1zM1101 244h1v2h-1zM1100 246h1v2h-1zM1099 248h1v2h-1zM1098 250h1v2h-1zM1097 252h1v3h-1zM1096 255h1v2h-1zM1095 257h1v3h-1zM330 260h7v1h-7zM1094 260h1v3h-1zM328 261h2v1h-2zM337 261h4v1h-4zM325 262h3v1h-3zM341 262h11v1h-11zM322 263h3v1h-3zM352 263h2v1h-2zM1093 263h1v3h-1zM320 264h2v1h-2zM354 264h11v1h-11zM318 265h2v1h-2zM365 265h3v1h-3zM317 266h1v1h-1zM368 266h2v1h-2zM1092 266h1v2h-1zM315 267h2v1h-2zM370 267h2v1h-2zM309 268h6v1h-6zM372 268h2v1h-2zM377 268h4v1h-4zM1091 268h1v3h-1zM294 269h15v1h-15zM374 269h3v1h-3zM381 269h2v1h-2zM292 270h2v1h-2zM383 270h2v1h-2zM290 271h2v1h-2zM385 271h1v1h-1zM1090 271h1v3h-1zM289 272h1v1h-1zM386 272h1v1h-1zM387 273h2v1h-2zM288 273h1v2h-1zM389 274h1v1h-1zM929 274h11v1h-11zM1089 274h1v3h-1zM287 275h1v1h-1zM390 275h2v1h-2zM925 275h4v1h-4zM940 275h2v1h-2zM286 276h1v1h-1zM392 276h2v1h-2zM921 276h4v1h-4zM942 276h2v1h-2zM285 277h1v1h-1zM394 277h1v1h-1zM918 277h3v1h-3zM944 277h2v1h-2zM1088 277h1v2h-1zM284 278h1v1h-1zM395 278h2v1h-2zM917 278h1v1h-1zM946 278h1v1h-1zM283 279h1v1h-1zM397 279h1v1h-1zM916 279h1v1h-1zM947 279h1v1h-1zM1087 279h1v3h-1zM282 280h1v1h-1zM398 280h3v1h-3zM915 280h1v1h-1zM948 280h1v1h-1zM281 281h1v1h-1zM401 281h2v1h-2zM914 281h1v1h-1zM949 281h1v1h-1zM403 282h1v1h-1zM950 282h1v1h-1zM280 282h1v2h-1zM913 282h1v2h-1zM1086 282h1v3h-1zM404 283h1v1h-1zM951 283h2v1h-2zM279 284h1v1h-1zM405 284h1v1h-1zM912 284h1v1h-1zM953 284h1v1h-1zM278 285h1v1h-1zM406 285h1v1h-1zM954 285h2v1h-2zM911 285h1v2h-1zM1085 285h1v2h-1zM277 286h1v1h-1zM407 286h1v1h-1zM956 286h2v1h-2zM275 287h2v1h-2zM408 287h1v1h-1zM910 287h1v1h-1zM958 287h3v1h-3zM1084 287h1v3h-1zM274 288h1v1h-1zM409 288h1v1h-1zM961 288h3v1h-3zM909 288h1v2h-1zM273 289h1v1h-1zM410 289h1v1h-1zM964 289h2v1h-2zM272 290h1v1h-1zM411 290h2v1h-2zM908 290h1v1h-1zM966 290h1v1h-1zM1083 290h1v2h-1zM271 291h1v1h-1zM413 291h1v1h-1zM967 291h2v1h-2zM907 291h1v2h-1zM270 292h1v1h-1zM414 292h3v1h-3zM969 292h1v1h-1zM1082 292h1v2h-1zM269 293h1v1h-1zM417 293h4v1h-4zM906 293h1v1h-1zM970 293h1v1h-1zM268 294h1v1h-1zM421 294h3v1h-3zM971 294h2v1h-2zM905 294h1v2h-1zM1081 294h1v2h-1zM267 295h1v1h-1zM424 295h2v1h-2zM973 295h1v1h-1zM266 296h1v1h-1zM426 296h2v1h-2zM974 296h1v1h-1zM904 296h1v2h-1zM1080 296h1v2h-1zM265 297h1v1h-1zM428 297h2v1h-2zM975 297h1v1h-1zM264 298h1v1h-1zM430 298h2v1h-2zM976 298h1v1h-1zM903 298h1v2h-1zM1079 298h1v2h-1zM263 299h1v1h-1zM432 299h2v1h-2zM977 299h1v1h-1zM262 300h1v1h-1zM434 300h3v1h-3zM902 300h1v1h-1zM978 300h3v1h-3zM1078 300h1v3h-1zM261 301h1v1h-1zM437 301h3v1h-3zM981 301h2v1h-2zM901 301h1v2h-1zM440 302h2v1h-2zM983 302h2v1h-2zM260 302h1v2h-1zM442 303h2v1h-2zM985 303h1v1h-1zM900 303h1v2h-1zM1077 303h1v3h-1zM259 304h1v1h-1zM444 304h2v1h-2zM986 304h2v1h-2zM258 305h1v1h-1zM446 305h1v1h-1zM988 305h2v1h-2zM899 305h1v2h-1zM257 306h1v1h-1zM447 306h2v1h-2zM990 306h2v1h-2zM1076 306h1v3h-1zM449 307h1v1h-1zM992 307h2v1h-2zM256 307h1v2h-1zM898 307h1v2h-1zM450 308h1v1h-1zM994 308h1v1h-1zM255 309h1v1h-1zM451 309h1v1h-1zM995 309h2v1h-2zM897 309h1v2h-1zM1075 309h1v3h-1zM254 310h1v1h-1zM452 310h1v1h-1zM997 310h1v1h-1zM253 311h1v1h-1zM453 311h1v1h-1zM998 311h2v1h-2zM896 311h1v2h-1zM454 312h2v1h-2zM1000 312h2v1h-2zM252 312h1v2h-1zM1074 312h1v2h-1zM456 313h2v1h-2zM1002 313h1v1h-1zM895 313h1v2h-1zM251 314h1v1h-1zM458 314h1v1h-1zM1003 314h2v1h-2zM1073 314h1v1h-1zM250 315h1v1h-1zM459 315h1v1h-1zM1005 315h1v1h-1zM1072 315h1v2h-1zM894 315h1v3h-1zM249 316h1v1h-1zM1006 316h2v1h-2zM460 316h1v2h-1zM247 317h2v1h-2zM473 317h4v1h-4zM1008 317h2v1h-2zM1071 317h1v1h-1zM245 318h2v1h-2zM461 318h1v1h-1zM469 318h4v1h-4zM477 318h3v1h-3zM1010 318h1v1h-1zM1070 318h1v1h-1zM893 318h1v2h-1zM242 319h3v1h-3zM462 319h7v1h-7zM480 319h2v1h-2zM1011 319h2v1h-2zM1069 319h1v1h-1zM240 320h2v1h-2zM482 320h1v1h-1zM1013 320h1v1h-1zM892 320h1v2h-1zM1068 320h1v2h-1zM238 321h2v1h-2zM483 321h2v1h-2zM1014 321h1v1h-1zM237 322h1v1h-1zM485 322h1v1h-1zM1015 322h2v1h-2zM1067 322h1v1h-1zM891 322h1v2h-1zM236 323h1v1h-1zM486 323h1v1h-1zM1017 323h1v1h-1zM1065 323h2v1h-2zM235 324h1v1h-1zM487 324h1v1h-1zM1018 324h1v1h-1zM1062 324h3v1h-3zM890 324h1v3h-1zM234 325h1v1h-1zM488 325h1v1h-1zM1019 325h2v1h-2zM1060 325h2v1h-2zM232 326h2v1h-2zM489 326h1v1h-1zM1021 326h1v1h-1zM1037 326h8v1h-8zM1057 326h3v1h-3zM230 327h2v1h-2zM490 327h1v1h-1zM1022 327h3v1h-3zM1033 327h4v1h-4zM1045 327h12v1h-12zM889 327h1v2h-1zM229 328h1v1h-1zM491 328h1v1h-1zM1025 328h8v1h-8zM227 329h2v1h-2zM492 329h1v1h-1zM888 329h1v3h-1zM226 330h1v1h-1zM493 330h1v1h-1zM225 331h1v1h-1zM494 331h1v1h-1zM223 332h2v1h-2zM495 332h1v2h-1zM887 332h1v2h-1zM222 333h1v1h-1zM220 334h2v1h-2zM496 334h1v1h-1zM886 334h1v3h-1zM218 335h2v1h-2zM497 335h1v2h-1zM217 336h1v1h-1zM215 337h2v1h-2zM498 337h1v2h-1zM885 337h1v2h-1zM214 338h1v1h-1zM212 339h2v1h-2zM499 339h1v2h-1zM884 339h1v3h-1zM210 340h2v1h-2zM209 341h1v1h-1zM500 341h1v2h-1zM207 342h2v1h-2zM883 342h1v2h-1zM206 343h1v1h-1zM501 343h1v2h-1zM204 344h2v1h-2zM882 344h1v3h-1zM202 345h2v1h-2zM502 345h1v1h-1zM200 346h2v1h-2zM503 346h1v2h-1zM194 347h6v1h-6zM881 347h1v2h-1zM193 348h1v1h-1zM504 348h1v1h-1zM192 349h1v1h-1zM505 349h1v2h-1zM880 349h1v2h-1zM191 350h1v1h-1zM190 351h1v1h-1zM506 351h1v1h-1zM879 351h1v2h-1zM189 352h1v1h-1zM507 352h1v2h-1zM188 353h1v1h-1zM878 353h1v3h-1zM187 354h1v1h-1zM508 354h1v2h-1zM94 355h3v1h-3zM186 355h1v1h-1zM97 356h3v1h-3zM137 356h8v1h-8zM185 356h1v1h-1zM93 356h1v2h-1zM509 356h1v2h-1zM877 356h1v2h-1zM100 357h2v1h-2zM133 357h4v1h-4zM145 357h2v1h-2zM184 357h1v1h-1zM102 358h3v1h-3zM113 358h4v1h-4zM130 358h3v1h-3zM147 358h1v1h-1zM183 358h1v1h-1zM510 358h1v1h-1zM92 358h1v2h-1zM876 358h1v2h-1zM105 359h8v1h-8zM117 359h8v1h-8zM128 359h2v1h-2zM148 359h1v1h-1zM169 359h4v1h-4zM182 359h1v1h-1zM511 359h1v2h-1zM125 360h3v1h-3zM149 360h1v1h-1zM166 360h3v1h-3zM173 360h3v1h-3zM181 360h1v1h-1zM91 360h1v2h-1zM875 360h1v2h-1zM150 361h1v1h-1zM164 361h2v1h-2zM176 361h2v1h-2zM179 361h2v1h-2zM512 361h1v1h-1zM90 362h1v1h-1zM151 362h1v1h-1zM162 362h2v1h-2zM178 362h1v1h-1zM513 362h1v2h-1zM874 362h1v2h-1zM89 363h1v1h-1zM161 363h1v1h-1zM152 363h1v2h-1zM87 364h2v1h-2zM159 364h2v1h-2zM514 364h1v1h-1zM873 364h1v2h-1zM85 365h2v1h-2zM153 365h1v1h-1zM157 365h2v1h-2zM515 365h1v1h-1zM82 366h3v1h-3zM154 366h3v1h-3zM516 366h1v2h-1zM872 366h1v2h-1zM80 367h2v1h-2zM78 368h2v1h-2zM517 368h1v1h-1zM871 368h1v2h-1zM76 369h2v1h-2zM518 369h1v1h-1zM74 370h2v1h-2zM519 370h1v1h-1zM870 370h1v3h-1zM73 371h1v2h-1zM520 371h1v2h-1zM72 373h1v1h-1zM521 373h1v1h-1zM869 373h1v2h-1zM522 374h1v1h-1zM71 374h1v2h-1zM523 375h1v1h-1zM868 375h1v3h-1zM70 376h1v2h-1zM524 376h1v2h-1zM525 378h1v1h-1zM867 378h1v2h-1zM69 378h1v3h-1zM526 379h1v1h-1zM527 380h1v1h-1zM866 380h1v3h-1zM68 381h1v2h-1zM528 381h1v2h-1zM529 383h1v1h-1zM67 383h1v3h-1zM865 383h1v3h-1zM530 384h1v1h-1zM531 385h1v1h-1zM532 386h1v2h-1zM864 386h1v2h-1zM66 386h1v3h-1zM533 388h1v1h-1zM863 388h1v3h-1zM534 389h1v1h-1zM65 389h1v2h-1zM535 390h1v2h-1zM64 391h1v3h-1zM862 391h1v3h-1zM536 392h1v1h-1zM537 393h1v2h-1zM63 394h1v2h-1zM861 394h1v3h-1zM538 395h1v1h-1zM539 396h1v2h-1zM62 396h1v3h-1zM860 397h1v2h-1zM540 398h1v1h-1zM61 399h1v2h-1zM541 399h1v2h-1zM859 399h1v3h-1zM542 401h1v1h-1zM60 401h1v2h-1zM543 402h1v2h-1zM858 402h1v3h-1zM59 403h1v2h-1zM544 404h1v2h-1zM58 405h1v3h-1zM857 405h1v3h-1zM545 406h1v2h-1zM57 408h1v2h-1zM546 408h1v2h-1zM856 408h1v2h-1zM56 410h1v2h-1zM547 410h1v2h-1zM855 410h1v3h-1zM55 412h1v2h-1zM548 412h1v2h-1zM854 413h1v3h-1zM54 414h1v2h-1zM549 414h1v2h-1zM53 416h1v2h-1zM550 416h1v2h-1zM853 416h1v4h-1zM52 418h1v2h-1zM551 418h1v2h-1zM51 420h1v2h-1zM552 420h1v2h-1zM852 420h1v3h-1zM50 422h1v2h-1zM553 422h1v2h-1zM851 423h1v4h-1zM49 424h1v2h-1zM554 424h1v2h-1zM48 426h1v2h-1zM555 426h1v2h-1zM850 427h1v3h-1zM556 428h1v1h-1zM47 428h1v2h-1zM557 429h1v2h-1zM46 430h1v2h-1zM849 430h1v3h-1zM558 431h1v1h-1zM559 432h1v1h-1zM45 432h1v2h-1zM560 433h1v1h-1zM848 433h1v2h-1zM561 434h1v1h-1zM44 434h1v2h-1zM562 435h1v1h-1zM847 435h1v3h-1zM563 436h1v1h-1zM43 436h1v2h-1zM564 437h1v1h-1zM565 438h1v1h-1zM42 438h1v2h-1zM846 438h1v3h-1zM566 439h1v1h-1zM567 440h1v1h-1zM593 440h7v1h-7zM41 440h1v2h-1zM568 441h1v1h-1zM589 441h4v1h-4zM600 441h2v1h-2zM845 441h1v2h-1zM569 442h1v1h-1zM585 442h4v1h-4zM602 442h1v1h-1zM40 442h1v3h-1zM570 443h3v1h-3zM582 443h3v1h-3zM603 443h2v1h-2zM844 443h1v3h-1zM573 444h4v1h-4zM580 444h2v1h-2zM605 444h1v1h-1zM577 445h3v1h-3zM606 445h1v1h-1zM39 445h1v2h-1zM607 446h1v1h-1zM843 446h1v2h-1zM608 447h1v2h-1zM38 447h1v3h-1zM842 448h1v3h-1zM609 449h1v1h-1zM610 450h1v1h-1zM37 450h1v2h-1zM611 451h2v1h-2zM841 451h1v2h-1zM613 452h1v1h-1zM36 452h1v3h-1zM614 453h1v1h-1zM840 453h1v3h-1zM615 454h1v1h-1zM35 455h1v2h-1zM616 455h1v2h-1zM839 456h1v2h-1zM617 457h1v1h-1zM34 457h1v3h-1zM618 458h1v1h-1zM838 458h1v3h-1zM619 459h1v1h-1zM620 460h1v1h-1zM33 460h1v2h-1zM621 461h1v1h-1zM837 461h1v2h-1zM622 462h1v1h-1zM32 462h1v3h-1zM623 463h2v1h-2zM836 463h1v3h-1zM625 464h1v1h-1zM626 465h1v1h-1zM31 465h1v2h-1zM627 466h1v1h-1zM835 466h1v2h-1zM628 467h1v1h-1zM30 467h1v3h-1zM629 468h1v1h-1zM834 468h1v2h-1zM630 469h10v1h-10zM640 470h2v1h-2zM29 470h1v2h-1zM833 470h1v2h-1zM642 471h1v1h-1zM643 472h1v1h-1zM832 472h1v1h-1zM28 472h1v2h-1zM644 473h1v1h-1zM831 473h1v2h-1zM645 474h1v1h-1zM27 474h1v2h-1zM646 475h2v1h-2zM830 475h1v1h-1zM648 476h2v1h-2zM829 476h1v2h-1zM26 476h1v3h-1zM650 477h1v1h-1zM651 478h2v1h-2zM828 478h1v1h-1zM653 479h1v1h-1zM25 479h1v2h-1zM827 479h1v2h-1zM654 480h1v1h-1zM655 481h2v1h-2zM826 481h1v1h-1zM24 481h1v2h-1zM657 482h1v1h-1zM825 482h1v1h-1zM658 483h2v1h-2zM23 483h1v2h-1zM824 483h1v2h-1zM660 484h2v1h-2zM662 485h1v1h-1zM823 485h1v1h-1zM22 485h1v3h-1zM663 486h1v1h-1zM822 486h1v1h-1zM821 487h1v1h-1zM664 487h1v2h-1zM820 488h1v1h-1zM21 488h1v2h-1zM665 489h1v1h-1zM819 489h1v1h-1zM666 490h1v1h-1zM818 490h1v1h-1zM20 490h1v2h-1zM667 491h2v1h-2zM817 491h1v1h-1zM669 492h1v1h-1zM816 492h1v1h-1zM19 492h1v2h-1zM670 493h1v1h-1zM815 493h1v1h-1zM671 494h2v1h-2zM813 494h2v1h-2zM18 494h1v3h-1zM673 495h1v1h-1zM809 495h4v1h-4zM674 496h1v1h-1zM805 496h4v1h-4zM675 497h1v1h-1zM725 497h12v1h-12zM790 497h15v1h-15zM17 497h1v3h-1zM676 498h1v1h-1zM718 498h7v1h-7zM737 498h4v1h-4zM753 498h8v1h-8zM788 498h2v1h-2zM677 499h1v1h-1zM716 499h2v1h-2zM741 499h12v1h-12zM761 499h7v1h-7zM785 499h3v1h-3zM678 500h2v1h-2zM714 500h2v1h-2zM768 500h2v1h-2zM773 500h12v1h-12zM16 500h1v2h-1zM680 501h2v1h-2zM713 501h1v1h-1zM770 501h3v1h-3zM682 502h1v1h-1zM711 502h2v1h-2zM15 502h1v3h-1zM683 503h2v1h-2zM710 503h1v1h-1zM685 504h1v1h-1zM709 504h1v1h-1zM686 505h1v1h-1zM707 505h2v1h-2zM14 505h1v3h-1zM687 506h2v1h-2zM706 506h1v1h-1zM689 507h1v1h-1zM704 507h2v1h-2zM690 508h14v1h-14zM13 508h1v3h-1zM12 511h1v2h-1zM11 513h1v3h-1zM10 516h1v3h-1zM9 519h1v2h-1zM8 521h1v2h-1zM7 523h1v2h-1zM6 525h1v2h-1z" fill="#ffff00"/>
<path d="M6 574h3v1h-3zM12 574h3v1h-3zM18 574h3v1h-3zM24 574h3v1h-3zM30 574h3v1h-3zM36 574h3v1h-3zM42 575h3v1h-3zM48 576h1v1h-1zM49 577h2v1h-2zM54 579h2v1h-2zM56 580h1v1h-1zM60 581h1v1h-1zM61 582h2v1h-2zM66 583h3v1h-3zM72 585h2v1h-2zM74 586h1v1h-1zM78 587h2v1h-2zM80 588h1v1h-1zM84 590h2v1h-2zM86 591h1v1h-1zM877 591h2v1h-2zM882 591h3v1h-3zM876 592h1v1h-1zM888 592h3v1h-3zM90 593h2v1h-2zM872 593h1v1h-1zM92 594h1v1h-1zM870 594h2v1h-2zM894 594h3v1h-3zM1119 594h3v1h-3zM1113 595h3v1h-3zM1125 595h3v1h-3zM96 596h2v1h-2zM866 596h1v1h-1zM900 596h2v1h-2zM1131 596h2v1h-2zM98 597h1v1h-1zM865 597h1v1h-1zM902 597h1v1h-1zM1109 597h1v1h-1zM1133 597h1v1h-1zM864 598h1v1h-1zM906 598h2v1h-2zM1107 598h2v1h-2zM908 599h1v1h-1zM102 600h1v1h-1zM912 600h1v1h-1zM103 601h1v1h-1zM860 601h1v1h-1zM913 601h2v1h-2zM104 602h1v1h-1zM859 602h1v1h-1zM1103 602h1v1h-1zM858 603h1v1h-1zM918 603h3v1h-3zM1102 603h1v1h-1zM924 604h1v1h-1zM1101 604h1v1h-1zM925 605h2v1h-2zM108 606h1v1h-1zM854 606h1v1h-1zM109 607h1v1h-1zM853 607h1v1h-1zM930 607h3v1h-3zM110 608h1v1h-1zM852 608h1v1h-1zM936 608h1v1h-1zM1097 608h1v1h-1zM937 609h2v1h-2zM1096 609h1v2h-1zM114 611h2v1h-2zM942 611h2v1h-2zM116 612h1v1h-1zM848 612h1v1h-1zM944 612h1v1h-1zM847 613h1v1h-1zM120 614h2v1h-2zM846 614h1v1h-1zM948 614h2v1h-2zM1092 614h1v2h-1zM122 615h1v1h-1zM294 615h3v1h-3zM950 615h1v1h-1zM288 616h3v1h-3zM300 616h1v1h-1zM1091 616h1v1h-1zM126 617h2v1h-2zM276 617h3v1h-3zM282 617h3v1h-3zM301 617h2v1h-2zM954 617h1v1h-1zM128 618h1v1h-1zM264 618h3v1h-3zM270 618h3v1h-3zM306 618h3v1h-3zM842 618h1v1h-1zM955 618h2v1h-2zM132 619h1v1h-1zM252 619h3v1h-3zM258 619h3v1h-3zM312 619h1v1h-1zM841 619h1v1h-1zM133 620h2v1h-2zM240 620h3v1h-3zM246 620h3v1h-3zM313 620h2v1h-2zM840 620h1v1h-1zM1088 620h1v1h-1zM138 621h3v1h-3zM144 621h3v1h-3zM150 621h3v1h-3zM229 621h2v1h-2zM234 621h3v1h-3zM318 621h2v1h-2zM960 621h2v1h-2zM1087 621h1v1h-1zM156 622h3v1h-3zM162 622h3v1h-3zM168 622h3v1h-3zM174 622h3v1h-3zM228 622h1v1h-1zM320 622h1v1h-1zM962 622h1v1h-1zM1086 622h1v1h-1zM180 623h3v1h-3zM217 623h2v1h-2zM222 623h3v1h-3zM324 623h1v1h-1zM835 623h2v1h-2zM186 624h3v1h-3zM192 624h3v1h-3zM198 624h3v1h-3zM210 624h3v1h-3zM216 624h1v1h-1zM325 624h2v1h-2zM834 624h1v1h-1zM966 624h2v1h-2zM204 625h3v1h-3zM330 625h3v1h-3zM968 625h1v1h-1zM336 626h3v1h-3zM829 626h2v1h-2zM1082 626h1v1h-1zM342 627h3v1h-3zM348 627h3v1h-3zM828 627h1v1h-1zM972 627h1v1h-1zM1081 627h1v1h-1zM354 628h3v1h-3zM360 628h1v1h-1zM824 628h1v1h-1zM973 628h1v1h-1zM1080 628h1v1h-1zM361 629h2v1h-2zM366 629h3v1h-3zM372 629h3v1h-3zM378 629h3v1h-3zM822 629h2v1h-2zM974 629h1v1h-1zM384 630h1v1h-1zM817 630h2v1h-2zM385 631h2v1h-2zM816 631h1v1h-1zM978 631h2v1h-2zM1075 631h2v1h-2zM390 632h2v1h-2zM810 632h3v1h-3zM980 632h1v1h-1zM1074 632h1v1h-1zM392 633h1v1h-1zM805 633h2v1h-2zM984 633h1v1h-1zM1069 633h2v1h-2zM396 634h1v1h-1zM804 634h1v1h-1zM985 634h2v1h-2zM1068 634h1v1h-1zM397 635h2v1h-2zM745 635h2v1h-2zM750 635h3v1h-3zM756 635h3v1h-3zM793 635h2v1h-2zM798 635h3v1h-3zM990 635h3v1h-3zM996 635h1v1h-1zM1056 635h3v1h-3zM1062 635h3v1h-3zM733 636h2v1h-2zM738 636h3v1h-3zM744 636h1v1h-1zM762 636h3v1h-3zM768 636h3v1h-3zM774 636h3v1h-3zM780 636h3v1h-3zM786 636h3v1h-3zM792 636h1v1h-1zM997 636h2v1h-2zM1002 636h3v1h-3zM1008 636h3v1h-3zM1014 636h3v1h-3zM1020 636h3v1h-3zM1026 636h3v1h-3zM1032 636h3v1h-3zM1038 636h3v1h-3zM1044 636h3v1h-3zM1050 636h3v1h-3zM402 637h3v1h-3zM732 637h1v1h-1zM408 638h1v1h-1zM726 638h3v1h-3zM409 639h2v1h-2zM456 639h3v1h-3zM462 639h3v1h-3zM468 639h3v1h-3zM474 639h3v1h-3zM720 639h3v1h-3zM445 640h2v1h-2zM450 640h3v1h-3zM480 640h3v1h-3zM714 640h3v1h-3zM414 641h3v1h-3zM438 641h3v1h-3zM444 641h1v1h-1zM486 641h3v1h-3zM709 641h2v1h-2zM420 642h3v1h-3zM426 642h3v1h-3zM432 642h3v1h-3zM492 642h1v1h-1zM702 642h3v1h-3zM708 642h1v1h-1zM493 643h2v1h-2zM612 643h3v1h-3zM618 643h3v1h-3zM696 643h3v1h-3zM606 644h3v1h-3zM685 644h2v1h-2zM690 644h3v1h-3zM498 645h2v1h-2zM601 645h2v1h-2zM624 645h2v1h-2zM684 645h1v1h-1zM500 646h1v1h-1zM600 646h1v1h-1zM626 646h1v1h-1zM678 646h3v1h-3zM596 647h1v1h-1zM630 647h2v1h-2zM504 648h2v1h-2zM594 648h2v1h-2zM632 648h1v1h-1zM673 648h2v1h-2zM506 649h1v1h-1zM636 649h1v1h-1zM672 649h1v1h-1zM590 650h1v1h-1zM637 650h2v1h-2zM666 650h3v1h-3zM510 651h2v1h-2zM588 651h2v1h-2zM661 651h2v1h-2zM512 652h1v1h-1zM642 652h3v1h-3zM648 652h1v1h-1zM660 652h1v1h-1zM584 653h1v1h-1zM649 653h2v1h-2zM654 653h3v1h-3zM516 654h2v1h-2zM582 654h2v1h-2zM518 655h1v1h-1zM577 655h2v1h-2zM546 656h3v1h-3zM552 656h3v1h-3zM558 656h3v1h-3zM576 656h1v1h-1zM522 657h3v1h-3zM528 657h1v1h-1zM540 657h3v1h-3zM564 657h3v1h-3zM570 657h3v1h-3zM529 658h2v1h-2zM534 658h3v1h-3z" fill="#ff0000"/>
<path d="M1078 686h1v4h-1zM1077 688h1v4h-1zM1079 690h1v6h-1zM1076 692h1v4h-1zM838 694h1v1h-1zM839 695h1v1h-1zM853 695h2v1h-2zM837 695h1v2h-1zM850 696h3v1h-3zM855 696h1v1h-1zM840 696h1v2h-1zM1075 696h1v4h-1zM1080 696h1v6h-1zM849 697h1v1h-1zM836 697h1v2h-1zM856 697h1v2h-1zM841 698h1v1h-1zM847 698h2v1h-2zM842 699h5v1h-5zM857 699h1v1h-1zM835 699h1v2h-1zM6 699h1v3h-1zM858 700h2v1h-2zM1074 700h1v3h-1zM860 701h2v1h-2zM865 701h2v1h-2zM834 701h1v2h-1zM862 702h3v1h-3zM867 702h2v1h-2zM1071 702h3v1h-3zM1070 702h1v3h-1zM7 702h1v4h-1zM1081 702h1v6h-1zM832 703h2v1h-2zM869 703h1v1h-1zM34 703h1v2h-1zM33 704h1v1h-1zM830 704h2v1h-2zM870 704h1v2h-1zM32 705h1v2h-1zM35 705h1v2h-1zM829 705h1v2h-1zM1069 705h1v4h-1zM1097 706h1v1h-1zM871 706h1v2h-1zM70 706h1v3h-1zM1098 706h1v3h-1zM8 706h1v4h-1zM31 707h1v1h-1zM69 707h1v1h-1zM828 707h1v1h-1zM1086 707h3v1h-3zM1093 707h4v1h-4zM36 707h1v2h-1zM14 708h10v1h-10zM30 708h1v1h-1zM889 708h3v1h-3zM1085 708h1v1h-1zM1089 708h4v1h-4zM68 708h1v2h-1zM827 708h1v2h-1zM872 708h1v2h-1zM1082 708h1v4h-1zM24 709h2v1h-2zM28 709h2v1h-2zM886 709h3v1h-3zM892 709h2v1h-2zM1084 709h1v1h-1zM13 709h1v2h-1zM37 709h1v2h-1zM42 709h1v2h-1zM71 709h1v4h-1zM1068 709h1v5h-1zM1099 709h1v5h-1zM26 710h2v1h-2zM40 710h2v1h-2zM67 710h1v1h-1zM826 710h1v1h-1zM884 710h2v1h-2zM914 710h4v1h-4zM1083 710h1v1h-1zM1134 710h1v1h-1zM873 710h1v2h-1zM894 710h1v2h-1zM918 710h1v2h-1zM9 710h1v4h-1zM38 711h2v1h-2zM62 711h5v1h-5zM825 711h1v1h-1zM882 711h2v1h-2zM913 711h1v1h-1zM12 711h1v2h-1zM1133 711h1v2h-1zM43 711h1v4h-1zM61 712h1v1h-1zM823 712h2v1h-2zM874 712h2v1h-2zM881 712h1v1h-1zM895 712h1v2h-1zM912 712h1v2h-1zM919 712h1v3h-1zM60 713h1v1h-1zM822 713h1v1h-1zM876 713h2v1h-2zM879 713h2v1h-2zM1132 713h1v1h-1zM11 713h1v2h-1zM72 713h1v4h-1zM59 714h1v1h-1zM282 714h3v1h-3zM289 714h1v1h-1zM820 714h2v1h-2zM878 714h1v1h-1zM911 714h1v1h-1zM896 714h1v2h-1zM1131 714h1v2h-1zM10 714h1v3h-1zM290 714h1v3h-1zM1067 714h1v4h-1zM1100 714h1v6h-1zM58 715h1v1h-1zM285 715h4v1h-4zM819 715h1v1h-1zM905 715h6v1h-6zM281 715h1v2h-1zM818 715h1v2h-1zM44 715h1v3h-1zM920 715h1v3h-1zM56 716h2v1h-2zM902 716h3v1h-3zM1130 716h1v1h-1zM897 716h1v2h-1zM54 717h2v1h-2zM280 717h1v1h-1zM900 717h2v1h-2zM1129 717h1v1h-1zM73 717h1v4h-1zM817 717h1v4h-1zM291 717h1v5h-1zM53 718h1v1h-1zM222 718h1v1h-1zM898 718h2v1h-2zM933 718h3v1h-3zM1118 718h3v1h-3zM1128 718h1v1h-1zM279 718h1v2h-1zM230 718h1v3h-1zM921 718h1v3h-1zM45 718h1v4h-1zM1066 718h1v4h-1zM51 719h2v1h-2zM223 719h1v1h-1zM229 719h1v1h-1zM929 719h4v1h-4zM936 719h2v1h-2zM1117 719h1v1h-1zM1121 719h4v1h-4zM1127 719h1v1h-1zM221 719h1v2h-1zM50 720h1v1h-1zM224 720h1v1h-1zM228 720h1v1h-1zM254 720h1v1h-1zM273 720h6v1h-6zM926 720h3v1h-3zM1125 720h2v1h-2zM1116 720h1v2h-1zM938 720h1v3h-1zM1101 720h1v5h-1zM49 721h1v1h-1zM220 721h1v1h-1zM225 721h1v1h-1zM227 721h1v1h-1zM253 721h1v1h-1zM255 721h2v1h-2zM270 721h3v1h-3zM924 721h2v1h-2zM922 721h1v2h-1zM74 721h1v3h-1zM94 721h1v3h-1zM231 721h1v4h-1zM816 721h1v4h-1zM47 722h2v1h-2zM226 722h1v1h-1zM252 722h1v1h-1zM257 722h1v1h-1zM261 722h4v1h-4zM268 722h2v1h-2zM923 722h1v1h-1zM1106 722h3v1h-3zM1115 722h1v1h-1zM46 722h1v2h-1zM93 722h1v2h-1zM219 722h1v2h-1zM1065 722h1v2h-1zM292 722h1v6h-1zM210 723h1v1h-1zM251 723h1v1h-1zM258 723h3v1h-3zM265 723h3v1h-3zM1105 723h1v1h-1zM1109 723h6v1h-6zM322 723h1v2h-1zM939 723h1v5h-1zM92 724h1v1h-1zM162 724h1v1h-1zM209 724h1v1h-1zM211 724h2v1h-2zM218 724h1v1h-1zM239 724h2v1h-2zM250 724h1v1h-1zM321 724h1v1h-1zM790 724h1v1h-1zM75 724h1v2h-1zM238 724h1v2h-1zM1104 724h1v2h-1zM1064 724h1v3h-1zM95 724h1v4h-1zM160 725h2v1h-2zM194 725h1v1h-1zM213 725h1v1h-1zM216 725h2v1h-2zM241 725h2v1h-2zM249 725h1v1h-1zM789 725h1v1h-1zM791 725h1v1h-1zM810 725h1v1h-1zM91 725h1v2h-1zM146 725h1v2h-1zM163 725h1v2h-1zM208 725h1v2h-1zM320 725h1v2h-1zM323 725h1v2h-1zM1102 725h1v3h-1zM232 725h1v4h-1zM815 725h1v4h-1zM114 726h1v1h-1zM138 726h3v1h-3zM144 726h2v1h-2zM158 726h2v1h-2zM192 726h2v1h-2zM195 726h2v1h-2zM202 726h2v1h-2zM214 726h2v1h-2zM243 726h2v1h-2zM248 726h1v1h-1zM788 726h1v1h-1zM792 726h1v1h-1zM811 726h1v1h-1zM1103 726h1v1h-1zM76 726h1v2h-1zM237 726h1v2h-1zM809 726h1v2h-1zM90 727h1v1h-1zM115 727h2v1h-2zM137 727h1v1h-1zM141 727h3v1h-3zM190 727h2v1h-2zM197 727h1v1h-1zM200 727h2v1h-2zM204 727h2v1h-2zM207 727h1v1h-1zM245 727h1v1h-1zM247 727h1v1h-1zM319 727h1v1h-1zM787 727h1v1h-1zM793 727h1v1h-1zM113 727h1v2h-1zM147 727h1v2h-1zM157 727h1v2h-1zM164 727h1v2h-1zM324 727h1v2h-1zM812 727h1v2h-1zM1063 727h1v2h-1zM89 728h1v1h-1zM117 728h1v1h-1zM136 728h1v1h-1zM188 728h2v1h-2zM198 728h2v1h-2zM206 728h1v1h-1zM246 728h1v1h-1zM318 728h1v1h-1zM365 728h2v1h-2zM786 728h1v1h-1zM794 728h9v1h-9zM77 728h1v2h-1zM808 728h1v2h-1zM236 728h1v3h-1zM96 728h1v4h-1zM940 728h1v4h-1zM293 728h1v5h-1zM88 729h1v1h-1zM118 729h1v1h-1zM135 729h1v1h-1zM185 729h3v1h-3zM316 729h2v1h-2zM358 729h7v1h-7zM367 729h1v1h-1zM785 729h1v1h-1zM803 729h1v1h-1zM813 729h1v1h-1zM1058 729h3v1h-3zM112 729h1v2h-1zM156 729h1v2h-1zM165 729h1v2h-1zM325 729h1v2h-1zM814 729h1v2h-1zM1062 729h1v2h-1zM148 729h1v3h-1zM378 729h1v3h-1zM233 729h1v4h-1zM78 730h7v1h-7zM87 730h1v1h-1zM119 730h2v1h-2zM126 730h9v1h-9zM182 730h3v1h-3zM314 730h2v1h-2zM346 730h1v1h-1zM368 730h1v1h-1zM783 730h2v1h-2zM804 730h1v1h-1zM1061 730h1v1h-1zM357 730h1v2h-1zM377 730h1v2h-1zM807 730h1v2h-1zM1057 730h1v2h-1zM85 731h2v1h-2zM121 731h1v1h-1zM124 731h2v1h-2zM166 731h3v1h-3zM181 731h1v1h-1zM313 731h1v1h-1zM326 731h5v1h-5zM345 731h1v1h-1zM369 731h1v1h-1zM438 731h1v1h-1zM710 731h5v1h-5zM782 731h1v1h-1zM805 731h1v1h-1zM111 731h1v2h-1zM155 731h1v2h-1zM235 731h1v2h-1zM347 731h1v2h-1zM994 731h1v2h-1zM122 732h2v1h-2zM169 732h2v1h-2zM180 732h1v1h-1zM331 732h1v1h-1zM343 732h2v1h-2zM370 732h1v1h-1zM376 732h1v1h-1zM439 732h1v1h-1zM709 732h1v1h-1zM715 732h1v1h-1zM781 732h1v1h-1zM806 732h1v1h-1zM995 732h2v1h-2zM1056 732h1v1h-1zM149 732h1v2h-1zM312 732h1v2h-1zM356 732h1v2h-1zM437 732h1v2h-1zM582 732h1v2h-1zM754 732h1v2h-1zM1002 732h1v2h-1zM97 732h1v4h-1zM941 732h1v5h-1zM379 732h1v6h-1zM154 733h1v1h-1zM171 733h1v1h-1zM179 733h1v1h-1zM332 733h1v1h-1zM342 733h1v1h-1zM348 733h1v1h-1zM371 733h2v1h-2zM581 733h1v1h-1zM716 733h1v1h-1zM753 733h1v1h-1zM997 733h1v1h-1zM1000 733h2v1h-2zM110 733h1v2h-1zM234 733h1v2h-1zM375 733h1v2h-1zM440 733h1v2h-1zM708 733h1v2h-1zM780 733h1v2h-1zM993 733h1v2h-1zM1055 733h1v2h-1zM294 733h1v4h-1zM152 734h2v1h-2zM172 734h1v1h-1zM178 734h1v1h-1zM311 734h1v1h-1zM333 734h1v1h-1zM341 734h1v1h-1zM373 734h1v1h-1zM717 734h1v1h-1zM998 734h2v1h-2zM1041 734h2v1h-2zM150 734h1v2h-1zM349 734h1v2h-1zM355 734h1v2h-1zM436 734h1v2h-1zM580 734h1v2h-1zM583 734h1v2h-1zM752 734h1v2h-1zM755 734h1v2h-1zM1003 734h1v2h-1zM108 735h2v1h-2zM151 735h1v1h-1zM173 735h1v1h-1zM176 735h2v1h-2zM309 735h2v1h-2zM334 735h1v1h-1zM374 735h1v1h-1zM441 735h1v1h-1zM698 735h1v1h-1zM707 735h1v1h-1zM718 735h2v1h-2zM726 735h1v1h-1zM779 735h1v1h-1zM1034 735h7v1h-7zM1054 735h1v1h-1zM340 735h1v2h-1zM402 735h1v2h-1zM992 735h1v2h-1zM1043 735h1v2h-1zM106 736h2v1h-2zM174 736h2v1h-2zM305 736h4v1h-4zM335 736h2v1h-2zM350 736h5v1h-5zM430 736h1v1h-1zM442 736h2v1h-2zM574 736h3v1h-3zM579 736h1v1h-1zM590 736h3v1h-3zM697 736h1v1h-1zM699 736h1v1h-1zM706 736h1v1h-1zM720 736h2v1h-2zM724 736h2v1h-2zM727 736h1v1h-1zM751 736h1v1h-1zM778 736h1v1h-1zM1033 736h1v1h-1zM98 736h1v2h-1zM403 736h1v2h-1zM435 736h1v2h-1zM584 736h1v2h-1zM756 736h1v2h-1zM1004 736h1v2h-1zM1053 736h1v2h-1zM99 737h2v1h-2zM104 737h2v1h-2zM302 737h3v1h-3zM337 737h1v1h-1zM339 737h1v1h-1zM418 737h3v1h-3zM429 737h1v1h-1zM431 737h2v1h-2zM444 737h2v1h-2zM573 737h1v1h-1zM577 737h2v1h-2zM589 737h1v1h-1zM593 737h2v1h-2zM654 737h8v1h-8zM695 737h2v1h-2zM700 737h1v1h-1zM705 737h1v1h-1zM722 737h2v1h-2zM742 737h9v1h-9zM777 737h1v1h-1zM983 737h2v1h-2zM1022 737h3v1h-3zM295 737h1v2h-1zM401 737h1v2h-1zM662 737h1v2h-1zM728 737h1v2h-1zM982 737h1v2h-1zM991 737h1v2h-1zM1032 737h1v2h-1zM1044 737h1v2h-1zM942 737h1v3h-1zM101 738h3v1h-3zM338 738h1v1h-1zM404 738h1v1h-1zM421 738h3v1h-3zM428 738h1v1h-1zM433 738h1v1h-1zM446 738h3v1h-3zM571 738h2v1h-2zM588 738h1v1h-1zM595 738h2v1h-2zM653 738h1v1h-1zM674 738h1v1h-1zM682 738h2v1h-2zM701 738h1v1h-1zM703 738h2v1h-2zM734 738h1v1h-1zM741 738h1v1h-1zM775 738h2v1h-2zM962 738h3v1h-3zM985 738h3v1h-3zM1013 738h3v1h-3zM1021 738h1v1h-1zM1025 738h3v1h-3zM1052 738h1v1h-1zM301 738h1v2h-1zM417 738h1v2h-1zM434 738h1v2h-1zM585 738h1v2h-1zM694 738h1v2h-1zM757 738h1v2h-1zM766 738h1v2h-1zM1005 738h1v2h-1zM380 738h1v6h-1zM424 739h2v1h-2zM427 739h1v1h-1zM449 739h2v1h-2zM562 739h1v1h-1zM570 739h1v1h-1zM587 739h1v1h-1zM597 739h1v1h-1zM601 739h1v1h-1zM675 739h1v1h-1zM681 739h1v1h-1zM684 739h2v1h-2zM702 739h1v1h-1zM729 739h1v1h-1zM732 739h2v1h-2zM735 739h2v1h-2zM740 739h1v1h-1zM765 739h1v1h-1zM943 739h2v1h-2zM961 739h1v1h-1zM965 739h2v1h-2zM988 739h2v1h-2zM1010 739h3v1h-3zM1016 739h2v1h-2zM1019 739h2v1h-2zM1028 739h2v1h-2zM1031 739h1v1h-1zM296 739h1v2h-1zM405 739h1v2h-1zM602 739h1v2h-1zM652 739h1v2h-1zM663 739h1v2h-1zM673 739h1v2h-1zM774 739h1v2h-1zM990 739h1v2h-1zM1045 739h1v2h-1zM1051 739h1v2h-1zM400 739h1v3h-1zM981 739h1v3h-1zM416 740h1v1h-1zM426 740h1v1h-1zM451 740h1v1h-1zM470 740h5v1h-5zM563 740h1v1h-1zM569 740h1v1h-1zM586 740h1v1h-1zM598 740h3v1h-3zM676 740h1v1h-1zM680 740h1v1h-1zM730 740h2v1h-2zM737 740h1v1h-1zM739 740h1v1h-1zM764 740h1v1h-1zM945 740h1v1h-1zM967 740h1v1h-1zM1008 740h2v1h-2zM1018 740h1v1h-1zM1030 740h1v1h-1zM300 740h1v2h-1zM561 740h1v2h-1zM686 740h1v2h-1zM758 740h1v2h-1zM946 740h1v2h-1zM960 740h1v2h-1zM1006 740h1v2h-1zM693 740h1v3h-1zM767 740h1v3h-1zM406 741h1v1h-1zM526 741h1v1h-1zM564 741h1v1h-1zM568 741h1v1h-1zM651 741h1v1h-1zM677 741h1v1h-1zM679 741h1v1h-1zM738 741h1v1h-1zM759 741h2v1h-2zM763 741h1v1h-1zM1007 741h1v1h-1zM1046 741h5v1h-5zM297 741h1v2h-1zM415 741h1v2h-1zM452 741h1v2h-1zM469 741h1v2h-1zM475 741h1v2h-1zM603 741h1v2h-1zM664 741h1v2h-1zM672 741h1v2h-1zM968 741h1v2h-1zM773 741h1v3h-1zM458 742h1v1h-1zM525 742h1v1h-1zM560 742h1v1h-1zM565 742h1v1h-1zM567 742h1v1h-1zM650 742h1v1h-1zM678 742h1v1h-1zM761 742h2v1h-2zM959 742h1v1h-1zM299 742h1v2h-1zM399 742h1v2h-1zM407 742h1v2h-1zM527 742h1v2h-1zM687 742h1v2h-1zM947 742h1v3h-1zM980 742h1v3h-1zM414 743h1v1h-1zM453 743h1v1h-1zM456 743h2v1h-2zM459 743h1v1h-1zM468 743h1v1h-1zM476 743h1v1h-1zM566 743h1v1h-1zM649 743h1v1h-1zM958 743h1v1h-1zM969 743h1v1h-1zM298 743h1v2h-1zM524 743h1v2h-1zM559 743h1v2h-1zM604 743h1v2h-1zM665 743h1v2h-1zM671 743h1v2h-1zM692 743h1v3h-1zM768 743h1v4h-1zM408 744h1v1h-1zM413 744h1v1h-1zM454 744h2v1h-2zM460 744h1v1h-1zM638 744h2v1h-2zM957 744h1v1h-1zM970 744h3v1h-3zM398 744h1v2h-1zM467 744h1v2h-1zM477 744h1v2h-1zM528 744h1v2h-1zM648 744h1v2h-1zM688 744h1v3h-1zM772 744h1v3h-1zM381 744h1v6h-1zM412 745h1v1h-1zM461 745h1v1h-1zM519 745h2v1h-2zM523 745h1v1h-1zM640 745h2v1h-2zM666 745h3v1h-3zM973 745h2v1h-2zM409 745h1v2h-1zM518 745h1v2h-1zM534 745h1v2h-1zM605 745h1v2h-1zM637 745h1v2h-1zM670 745h1v2h-1zM948 745h1v2h-1zM956 745h1v2h-1zM558 745h1v3h-1zM979 745h1v3h-1zM396 746h2v1h-2zM411 746h1v1h-1zM462 746h5v1h-5zM478 746h1v1h-1zM521 746h2v1h-2zM533 746h1v1h-1zM642 746h3v1h-3zM647 746h1v1h-1zM669 746h1v1h-1zM975 746h1v1h-1zM529 746h1v2h-1zM691 746h1v3h-1zM394 747h2v1h-2zM410 747h1v1h-1zM479 747h1v1h-1zM531 747h2v1h-2zM645 747h2v1h-2zM955 747h1v1h-1zM976 747h1v1h-1zM535 747h1v2h-1zM606 747h1v2h-1zM636 747h1v2h-1zM689 747h1v2h-1zM517 747h1v3h-1zM769 747h1v3h-1zM771 747h1v3h-1zM949 747h1v3h-1zM393 748h1v1h-1zM530 748h1v1h-1zM954 748h1v1h-1zM977 748h1v1h-1zM480 748h1v2h-1zM486 748h1v2h-1zM978 748h1v2h-1zM557 748h1v4h-1zM392 749h1v1h-1zM485 749h1v1h-1zM607 749h1v1h-1zM614 749h1v1h-1zM953 749h1v1h-1zM635 749h1v2h-1zM690 749h1v2h-1zM536 749h1v3h-1zM391 750h1v1h-1zM481 750h1v1h-1zM483 750h2v1h-2zM613 750h1v1h-1zM615 750h1v1h-1zM951 750h2v1h-2zM487 750h1v2h-1zM516 750h1v2h-1zM608 750h1v2h-1zM770 750h1v2h-1zM950 750h1v2h-1zM382 750h1v3h-1zM390 751h1v1h-1zM482 751h1v1h-1zM612 751h1v1h-1zM634 751h1v1h-1zM616 751h1v2h-1zM389 752h1v1h-1zM609 752h1v1h-1zM611 752h1v1h-1zM537 752h1v2h-1zM633 752h1v2h-1zM488 752h1v3h-1zM515 752h1v3h-1zM556 752h1v4h-1zM383 753h1v1h-1zM610 753h1v1h-1zM617 753h1v1h-1zM388 753h1v2h-1zM384 754h1v1h-1zM541 754h3v1h-3zM618 754h1v1h-1zM538 754h1v2h-1zM632 754h1v2h-1zM385 755h1v1h-1zM387 755h1v1h-1zM539 755h2v1h-2zM544 755h2v1h-2zM619 755h2v1h-2zM489 755h1v2h-1zM514 755h1v2h-1zM386 756h1v1h-1zM546 756h1v1h-1zM621 756h1v1h-1zM631 756h1v2h-1zM555 756h1v4h-1zM622 757h7v1h-7zM490 757h1v2h-1zM513 757h1v2h-1zM547 757h1v2h-1zM629 758h2v1h-2zM491 759h1v1h-1zM512 759h1v2h-1zM548 759h1v2h-1zM492 760h1v1h-1zM554 760h1v3h-1zM493 761h1v1h-1zM511 761h1v2h-1zM549 761h1v2h-1zM494 762h1v1h-1zM506 762h2v1h-2zM553 762h1v1h-1zM495 763h1v1h-1zM505 763h1v1h-1zM508 763h2v1h-2zM550 763h3v1h-3zM510 763h1v2h-1zM496 764h1v2h-1zM504 764h1v2h-1zM497 766h1v1h-1zM503 766h1v1h-1zM498 767h5v1h-5z" fill="#1e90ff"/>
</g>
<rect x="6" y="89" width="1415" height="3" fill="#ff0000"/>
<rect x="6" y="195" width="1415" height="3" fill="#00ff00"/>
<rect x="6" y="301" width="1415" height="3" fill="#0000ff"/>
<rect x="6" y="386" width="1415" height="3" fill="#0000ff"/>
<rect x="6" y="453" width="1415" height="3" fill="#0000ff"/>
<rect x="5" y="23" width="1417" height="1" fill="#000"/><rect x="5" y="562" width="1417" height="1" fill="#000"/><rect x="5" y="23" width="1" height="540" fill="#000"/><rect x="1421" y="23" width="1" height="540" fill="#000"/>
<rect x="5" y="564" width="1417" height="1" fill="#000"/><rect x="5" y="667" width="1417" height="1" fill="#000"/><rect x="5" y="564" width="1" height="104" fill="#000"/><rect x="1421" y="564" width="1" height="104" fill="#000"/>
<rect x="5" y="669" width="1417" height="1" fill="#000"/><rect x="5" y="799" width="1417" height="1" fill="#000"/><rect x="5" y="669" width="1" height="131" fill="#000"/><rect x="1421" y="669" width="1" height="131" fill="#000"/>
<rect x="1415" y="87" width="7" height="7" fill="#ff0000"/><rect x="1418" y="90" width="1" height="1" fill="#fff"/>
<rect x="5" y="87" width="7" height="7" fill="#ff0000"/><rect x="8" y="90" width="1" height="1" fill="#fff"/>
<rect x="5" y="193" width="7" height="7" fill="#00ff00"/><rect x="8" y="196" width="1" height="1" fill="#fff"/>
<rect x="1415" y="193" width="7" height="7" fill="#00ff00"/><rect x="1418" y="196" width="1" height="1" fill="#fff"/>
<rect x="5" y="299" width="7" height="7" fill="#0000ff"/><rect x="8" y="302" width="1" height="1" fill="#fff"/>
<rect x="1415" y="299" width="7" height="7" fill="#0000ff"/><rect x="1418" y="302" width="1" height="1" fill="#fff"/>
<rect x="1422" y="31" width="2" height="1" fill="#000"/>
<rect x="1422" y="64" width="2" height="1" fill="#000"/>
<rect x="1422" y="97" width="2" height="1" fill="#000"/>
<rect x="1422" y="130" width="2" height="1" fill="#000"/>
<rect x="1422" y="163" width="2" height="1" fill="#000"/>
<rect x="1422" y="196" width="2" height="1" fill="#000"/>
<rect x="1422" y="229" width="2" height="1" fill="#000"/>
<rect x="1422" y="262" width="2" height="1" fill="#000"/>
<rect x="1422" y="295" width="2" height="1" fill="#000"/>
<rect x="1422" y="328" width="2" height="1" fill="#000"/>
<rect x="1422" y="361" width="2" height="1" fill="#000"/>
<rect x="1422" y="394" width="2" height="1" fill="#000"/>
<rect x="1422" y="427" width="2" height="1" fill="#000"/>
<rect x="1422" y="460" width="2" height="1" fill="#000"/>
<rect x="1422" y="493" width="2" height="1" fill="#000"/>
<rect x="1422" y="526" width="2" height="1" fill="#000"/>
<rect x="1422" y="559" width="2" height="1" fill="#000"/>
<rect x="1422" y="566" width="1" height="1" fill="#000"/>
<rect x="1422" y="633" width="1" height="1" fill="#000"/>
<rect x="1422" y="666" width="1" height="1" fill="#000"/>
<rect x="1422" y="671" width="1" height="1" fill="#000"/>
<rect x="1422" y="798" width="1" height="1" fill="#000"/>
<rect x="6" y="800" width="1" height="3" fill="#000"/>
<rect x="70" y="800" width="1" height="3" fill="#000"/>
<rect x="134" y="800" width="1" height="3" fill="#000"/>
<rect x="198" y="800" width="1" height="3" fill="#000"/>
<rect x="262" y="800" width="1" height="3" fill="#000"/>
<rect x="326" y="800" width="1" height="3" fill="#000"/>
<rect x="390" y="800" width="1" height="3" fill="#000"/>
<rect x="454" y="800" width="1" height="3" fill="#000"/>
<rect x="518" y="800" width="1" height="3" fill="#000"/>
<rect x="582" y="800" width="1" height="3" fill="#000"/>
<rect x="646" y="800" width="1" height="3" fill="#000"/>
<rect x="710" y="800" width="1" height="3" fill="#000"/>
<rect x="774" y="800" width="1" height="3" fill="#000"/>
<rect x="838" y="800" width="1" height="3" fill="#000"/>
<rect x="902" y="800" width="1" height="3" fill="#000"/>
<rect x="966" y="800" width="1" height="3" fill="#000"/>
<rect x="1030" y="800" width="1" height="3" fill="#000"/>
<rect x="1094" y="800" width="1" height="3" fill="#000"/>
<polygon points="1132,24 1142,24 1137,29" fill="#c0c0c0" shape-rendering="auto"/>
<polygon points="6,794 6,799 11,799" fill="#c0c0c0" shape-rendering="auto"/>
<polygon points="9,34.2 16,34.2 12.5,30" fill="#000" shape-rendering="auto"/>
<polygon points="1440.5,828 1440.5,835 1436.5,831.5" fill="#9c9c9c" shape-rendering="auto"/><polygon points="1455.5,828 1455.5,835 1459.5,831.5" fill="#9c9c9c" shape-rendering="auto"/>
</svg>
<div class="t ax" style="top:26px">7.15590</div>
<div class="t ax" style="top:59px">7.12530</div>
<div class="t ax" style="top:92px">7.09380</div>
<div class="t ax" style="top:125px">7.06320</div>
<div class="t ax" style="top:158px">7.03170</div>
<div class="t ax" style="top:224px">6.96960</div>
<div class="t ax" style="top:257px">6.93900</div>
<div class="t ax" style="top:290px">6.90750</div>
<div class="t ax" style="top:323px">6.87690</div>
<div class="t ax" style="top:356px">6.84630</div>
<div class="t ax" style="top:389px">6.81480</div>
<div class="t ax" style="top:422px">6.78420</div>
<div class="t ax" style="top:455px">6.75270</div>
<div class="t ax" style="top:488px">6.72210</div>
<div class="t ax" style="top:521px">6.69060</div>
<div class="t ax" style="top:554px">6.66000</div>
<div class="t" style="top:566px;left:1424.6px">0.085164</div>
<div class="t" style="top:628px;left:1424.6px">0.00</div>
<div class="t" style="top:655px;left:1425px;transform:translate(0,1px) scale(0.905,0.975)">-0.041597</div>
<div class="t" style="top:671px;left:1425.6px">100</div>
<div class="t" style="top:704px;left:1423.7px">70</div>
<div class="t" style="top:755px;left:1424px">30</div>
<div class="t" style="top:787px;left:1424.2px">0</div>
<div class="lbl" style="top:49px;background:#000"><span>7.13446</span></div>
<div class="lbl" style="top:84px;background:#ff0000"><span>7.10044</span></div>
<div class="lbl" style="top:190px;background:#00ff00"><span>7.00092</span></div>
<div class="lbl" style="top:296px;background:#0000ff"><span>6.90100</span></div>
<div class="lbl" style="top:381px;background:#0000ff"><span>6.82103</span></div>
<div class="lbl" style="top:448px;background:#0000ff"><span>6.75804</span></div>
<div class="t" style="left:4.7px;top:803px;transform:translate(0,1px) scale(0.91,0.975)">24 Jul 2018</div>
<div class="t" style="left:68.7px;top:803px;transform:translate(0,1px) scale(0.91,0.975)">15 Aug 2018</div>
<div class="t" style="left:132.7px;top:803px;transform:translate(0,1px) scale(0.91,0.975)">6 Sep 2018</div>
<div class="t" style="left:196.7px;top:803px;transform:translate(0,1px) scale(0.91,0.975)">28 Sep 2018</div>
<div class="t" style="left:260.7px;top:803px;transform:translate(0,1px) scale(0.91,0.975)">22 Oct 2018</div>
<div class="t" style="left:324.7px;top:803px;transform:translate(0,1px) scale(0.91,0.975)">13 Nov 2018</div>
<div class="t" style="left:388.7px;top:803px;transform:translate(0,1px) scale(0.91,0.975)">5 Dec 2018</div>
<div class="t" style="left:452.7px;top:803px;transform:translate(0,1px) scale(0.91,0.975)">27 Dec 2018</div>
<div class="t" style="left:516.7px;top:803px;transform:translate(0,1px) scale(0.91,0.975)">18 Jan 2019</div>
<div class="t" style="left:580.7px;top:803px;transform:translate(0,1px) scale(0.91,0.975)">11 Feb 2019</div>
<div class="t" style="left:644.7px;top:803px;transform:translate(0,1px) scale(0.91,0.975)">5 Mar 2019</div>
<div class="t" style="left:708.7px;top:803px;transform:translate(0,1px) scale(0.91,0.975)">27 Mar 2019</div>
<div class="t" style="left:772.7px;top:803px;transform:translate(0,1px) scale(0.91,0.975)">18 Apr 2019</div>
<div class="t" style="left:836.7px;top:803px;transform:translate(0,1px) scale(0.91,0.975)">13 May 2019</div>
<div class="t" style="left:900.7px;top:803px;transform:translate(0,1px) scale(0.91,0.975)">4 Jun 2019</div>
<div class="t" style="left:964.7px;top:803px;transform:translate(0,1px) scale(0.91,0.975)">26 Jun 2019</div>
<div class="t" style="left:1028.7px;top:803px;transform:translate(0,1px) scale(0.91,0.975)">18 Jul 2019</div>
<div class="t" style="left:1092.7px;top:803px;transform:translate(0,1px) scale(0.91,0.975)">9 Aug 2019</div>
<div class="t" style="left:20.7px;top:26px;transform:translate(0,1px) scale(0.97,0.975)">USDCNH-,Daily</div>
<div class="t" style="left:95.5px;top:26px;transform:translate(0,1px) scale(0.92,0.975)">7.08860 7.13730 7.08194 7.13446</div>
<div class="t" style="left:10.2px;top:568px;transform:translate(0,1px) scale(0.937,0.975)">MACD(12,26,9) 0.045933 0.045627</div>
<div class="t" style="left:10.2px;top:673px;transform:translate(0,1px) scale(0.935,0.975)">RSI(14) 69.8916</div>
<div class="a" style="left:7px;top:41px;width:223px;height:68px;background:#fff"></div>
<div class="a" style="left:9px;top:43px;width:52px;height:25px;background:linear-gradient(#5858ff,#3434e4)"></div>
<div class="a" style="left:9px;top:67px;width:109px;height:40px;background:linear-gradient(#3a3ae6,#2020d0 40%,#0000a4)"></div>
<div class="a" style="left:176px;top:43px;width:52px;height:25px;background:linear-gradient(#5858ff,#3434e4)"></div>
<div class="a" style="left:120px;top:67px;width:108px;height:40px;background:linear-gradient(#3a3ae6,#2020d0 40%,#0000a4)"></div>
<div class="a" style="left:9px;top:43px;width:52px;height:1px;background:#0c0cb4"></div>
<div class="a" style="left:9px;top:43px;width:1px;height:64px;background:#0c0cb4"></div>
<div class="a" style="left:60px;top:43px;width:1px;height:25px;background:#0c0cb4"></div>
<div class="a" style="left:60px;top:67px;width:58px;height:1px;background:#0c0cb4"></div>
<div class="a" style="left:117px;top:67px;width:1px;height:40px;background:#0c0cb4"></div>
<div class="a" style="left:176px;top:43px;width:52px;height:1px;background:#0c0cb4"></div>
<div class="a" style="left:227px;top:43px;width:1px;height:64px;background:#0c0cb4"></div>
<div class="a" style="left:176px;top:43px;width:1px;height:25px;background:#0c0cb4"></div>
<div class="a" style="left:120px;top:67px;width:57px;height:1px;background:#0c0cb4"></div>
<div class="a" style="left:120px;top:67px;width:1px;height:40px;background:#0c0cb4"></div>
<div class="a" style="left:13px;top:66px;width:44px;height:1px;background:#0a0a90"></div>
<div class="a" style="left:13px;top:67px;width:44px;height:1px;background:#8c8cff"></div>
<div class="a" style="left:180px;top:66px;width:44px;height:1px;background:#0a0a90"></div>
<div class="a" style="left:180px;top:67px;width:44px;height:1px;background:#8c8cff"></div>
<div class="a" style="left:61px;top:43px;width:115px;height:24px;background:#fff"></div>
<div class="a" style="left:63px;top:43px;width:111px;height:22px;background:#fff;border:1px solid #b0b0b0;box-sizing:border-box"></div>
<div class="a" style="left:64px;top:44px;width:20px;height:20px;background:linear-gradient(#f4f4f4,#e6e6e6 45%,#d2d2d2 55%,#cccccc);border-right:1px solid #b8b8b8;box-sizing:border-box"></div>
<div class="a" style="left:153px;top:44px;width:20px;height:20px;background:linear-gradient(#f4f4f4,#e6e6e6 45%,#d2d2d2 55%,#cccccc);border-left:1px solid #b8b8b8;box-sizing:border-box"></div>
<svg width="6" height="4" style="left:71px;top:52px" viewBox="0 0 6 4"><polygon points="0,0 6,0 3,3.5" fill="#4a62c4"/></svg>
<svg width="6" height="4" style="left:160px;top:52px" viewBox="0 0 6 4"><polygon points="0,3.5 6,3.5 3,0" fill="#4a62c4"/></svg>
<div class="a" style="left:125.5px;top:46px;font-size:12.4px;line-height:15px;transform:scaleX(0.95);transform-origin:0 0">1.00</div>
<div class="a" style="left:21.4px;top:48px;font-size:12.3px;line-height:14px;color:#fff;transform:scaleX(0.865);transform-origin:0 0">SELL</div>
<div class="a" style="left:189.6px;top:48px;font-size:12.3px;line-height:14px;color:#fff;transform:scaleX(0.96);transform-origin:0 0">BUY</div>
<div class="a" style="left:28.8px;top:88px;font-size:12.4px;line-height:13px;color:#fff;font-weight:bold">7.13</div>
<div class="a" style="left:138.8px;top:88px;font-size:12.4px;line-height:13px;color:#fff;font-weight:bold">7.13</div>
<div class="a" style="left:55.6px;top:67px;font-size:34px;line-height:36px;color:#fff;letter-spacing:-1.5px">44</div>
<div class="a" style="left:167px;top:67px;font-size:34px;line-height:36px;color:#fff;letter-spacing:-1.5px">71</div>
<div class="a" style="left:96px;top:72px;font-size:12.6px;line-height:13px;color:#fff;font-weight:bold">6</div>
<div class="a" style="left:207px;top:72px;font-size:12.6px;line-height:13px;color:#fff;font-weight:bold">0</div>

</body></html>
